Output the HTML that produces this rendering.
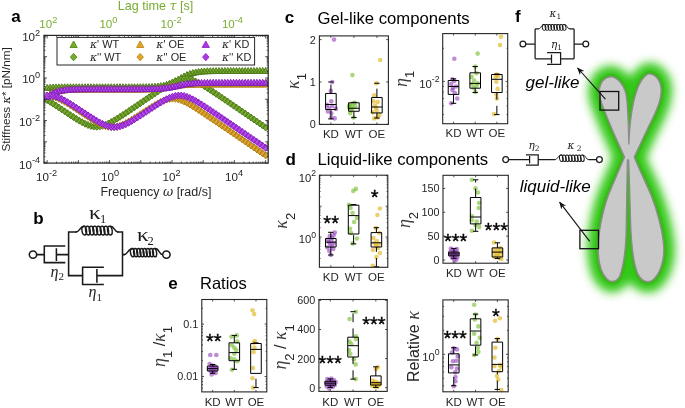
<!DOCTYPE html>
<html><head><meta charset="utf-8"><title>Figure</title>
<style>html,body{margin:0;padding:0;background:#fff;}svg{display:block;font-family:"Liberation Sans", sans-serif;}</style></head>
<body><svg width="685" height="408" viewBox="0 0 685 408">
<rect width="685" height="408" fill="#fff"/>
<clipPath id="ca"><rect x="44.0" y="35.4" width="224.2" height="127.69999999999999"/></clipPath>
<rect x="44.0" y="35.4" width="224.2" height="127.69999999999999" fill="#fff" stroke="none"/>
<g clip-path="url(#ca)"><path d="M43.80 90.33L50.60 90.33L47.20 84.38ZM46.71 90.12L53.51 90.12L50.11 84.17ZM49.62 89.98L56.42 89.98L53.02 84.03ZM52.54 89.88L59.34 89.88L55.94 83.93ZM55.45 89.82L62.25 89.82L58.85 83.87ZM58.36 89.78L65.16 89.78L61.76 83.83ZM61.27 89.75L68.07 89.75L64.67 83.80ZM64.18 89.74L70.98 89.74L67.58 83.79ZM67.10 89.73L73.90 89.73L70.50 83.78ZM70.01 89.72L76.81 89.72L73.41 83.77ZM72.92 89.71L79.72 89.71L76.32 83.76ZM75.83 89.71L82.63 89.71L79.23 83.76ZM78.74 89.71L85.54 89.71L82.14 83.76ZM81.66 89.71L88.46 89.71L85.06 83.76ZM84.57 89.71L91.37 89.71L87.97 83.76ZM87.48 89.71L94.28 89.71L90.88 83.76ZM90.39 89.71L97.19 89.71L93.79 83.76ZM93.30 89.71L100.10 89.71L96.70 83.76ZM96.22 89.71L103.02 89.71L99.62 83.76ZM99.13 89.71L105.93 89.71L102.53 83.76ZM102.04 89.71L108.84 89.71L105.44 83.76ZM104.95 89.71L111.75 89.71L108.35 83.76ZM107.86 89.71L114.66 89.71L111.26 83.76ZM110.78 89.70L117.58 89.70L114.18 83.75ZM113.69 89.70L120.49 89.70L117.09 83.75ZM116.60 89.70L123.40 89.70L120.00 83.75ZM119.51 89.70L126.31 89.70L122.91 83.75ZM122.42 89.70L129.22 89.70L125.82 83.75ZM125.34 89.70L132.14 89.70L128.74 83.75ZM128.25 89.69L135.05 89.69L131.65 83.74ZM131.16 89.68L137.96 89.68L134.56 83.73ZM134.07 89.67L140.87 89.67L137.47 83.72ZM136.98 89.65L143.78 89.65L140.38 83.70ZM139.90 89.62L146.70 89.62L143.30 83.67ZM142.81 89.57L149.61 89.57L146.21 83.62ZM145.72 89.49L152.52 89.49L149.12 83.54ZM148.63 89.38L155.43 89.38L152.03 83.43ZM151.54 89.21L158.34 89.21L154.94 83.26ZM154.46 88.97L161.26 88.97L157.86 83.02ZM157.37 88.60L164.17 88.60L160.77 82.65ZM160.28 88.08L167.08 88.08L163.68 82.13ZM163.19 87.35L169.99 87.35L166.59 81.40ZM166.10 86.39L172.90 86.39L169.50 80.44ZM169.02 85.18L175.82 85.18L172.42 79.23ZM171.93 83.73L178.73 83.73L175.33 77.78ZM174.84 82.14L181.64 82.14L178.24 76.19ZM177.75 80.50L184.55 80.50L181.15 74.55ZM180.66 78.95L187.46 78.95L184.06 73.00ZM183.58 77.57L190.38 77.57L186.98 71.62ZM186.49 76.43L193.29 76.43L189.89 70.48ZM189.40 75.54L196.20 75.54L192.80 69.59ZM192.31 74.89L199.11 74.89L195.71 68.94ZM195.22 74.42L202.02 74.42L198.62 68.47ZM198.14 74.09L204.94 74.09L201.54 68.14ZM201.05 73.87L207.85 73.87L204.45 67.92ZM203.96 73.73L210.76 73.73L207.36 67.78ZM206.87 73.63L213.67 73.63L210.27 67.68ZM209.78 73.56L216.58 73.56L213.18 67.61ZM212.70 73.52L219.50 73.52L216.10 67.57ZM215.61 73.49L222.41 73.49L219.01 67.54ZM218.52 73.48L225.32 73.48L221.92 67.53ZM221.43 73.46L228.23 73.46L224.83 67.51ZM224.34 73.46L231.14 73.46L227.74 67.51ZM227.26 73.45L234.06 73.45L230.66 67.50ZM230.17 73.45L236.97 73.45L233.57 67.50ZM233.08 73.45L239.88 73.45L236.48 67.50ZM235.99 73.44L242.79 73.44L239.39 67.49ZM238.90 73.44L245.70 73.44L242.30 67.49ZM241.82 73.44L248.62 73.44L245.22 67.49ZM244.73 73.44L251.53 73.44L248.13 67.49ZM247.64 73.44L254.44 73.44L251.04 67.49ZM250.55 73.44L257.35 73.44L253.95 67.49ZM253.46 73.44L260.26 73.44L256.86 67.49ZM256.38 73.44L263.18 73.44L259.78 67.49ZM259.29 73.44L266.09 73.44L262.69 67.49ZM262.20 73.44L269.00 73.44L265.60 67.49Z" fill="#7bb030" stroke="#527d1c" stroke-width="1.0" stroke-linejoin="miter"/><path d="M44.30 100.07L47.20 96.57L50.10 100.07L47.20 103.57ZM47.21 101.84L50.11 98.34L53.01 101.84L50.11 105.34ZM50.12 103.68L53.02 100.18L55.92 103.68L53.02 107.18ZM53.04 105.57L55.94 102.07L58.84 105.57L55.94 109.07ZM55.95 107.48L58.85 103.98L61.75 107.48L58.85 110.98ZM58.86 109.41L61.76 105.91L64.66 109.41L61.76 112.91ZM61.77 111.34L64.67 107.84L67.57 111.34L64.67 114.84ZM64.68 113.26L67.58 109.76L70.48 113.26L67.58 116.76ZM67.60 115.17L70.50 111.67L73.40 115.17L70.50 118.67ZM70.51 117.05L73.41 113.55L76.31 117.05L73.41 120.55ZM73.42 118.87L76.32 115.37L79.22 118.87L76.32 122.37ZM76.33 120.62L79.23 117.12L82.13 120.62L79.23 124.12ZM79.24 122.25L82.14 118.75L85.04 122.25L82.14 125.75ZM82.16 123.72L85.06 120.22L87.96 123.72L85.06 127.22ZM85.07 124.97L87.97 121.47L90.87 124.97L87.97 128.47ZM87.98 125.93L90.88 122.43L93.78 125.93L90.88 129.43ZM90.89 126.52L93.79 123.02L96.69 126.52L93.79 130.02ZM93.80 126.71L96.70 123.21L99.60 126.71L96.70 130.21ZM96.72 126.48L99.62 122.98L102.52 126.48L99.62 129.98ZM99.63 125.84L102.53 122.34L105.43 125.84L102.53 129.34ZM102.54 124.85L105.44 121.35L108.34 124.85L105.44 128.35ZM105.45 123.57L108.35 120.07L111.25 123.57L108.35 127.07ZM108.36 122.08L111.26 118.58L114.16 122.08L111.26 125.58ZM111.28 120.43L114.18 116.93L117.08 120.43L114.18 123.93ZM114.19 118.67L117.09 115.17L119.99 118.67L117.09 122.17ZM117.10 116.83L120.00 113.33L122.90 116.83L120.00 120.33ZM120.01 114.95L122.91 111.45L125.81 114.95L122.91 118.45ZM122.92 113.02L125.82 109.52L128.72 113.02L125.82 116.52ZM125.84 111.08L128.74 107.58L131.64 111.08L128.74 114.58ZM128.75 109.12L131.65 105.62L134.55 109.12L131.65 112.62ZM131.66 107.16L134.56 103.66L137.46 107.16L134.56 110.66ZM134.57 105.19L137.47 101.69L140.37 105.19L137.47 108.69ZM137.48 103.21L140.38 99.71L143.28 103.21L140.38 106.71ZM140.40 101.24L143.30 97.74L146.20 101.24L143.30 104.74ZM143.31 99.26L146.21 95.76L149.11 99.26L146.21 102.76ZM146.22 97.29L149.12 93.79L152.02 97.29L149.12 100.79ZM149.13 95.33L152.03 91.83L154.93 95.33L152.03 98.83ZM152.04 93.38L154.94 89.88L157.84 93.38L154.94 96.88ZM154.96 91.45L157.86 87.95L160.76 91.45L157.86 94.95ZM157.87 89.55L160.77 86.05L163.67 89.55L160.77 93.05ZM160.78 87.70L163.68 84.20L166.58 87.70L163.68 91.20ZM163.69 85.91L166.59 82.41L169.49 85.91L166.59 89.41ZM166.60 84.22L169.50 80.72L172.40 84.22L169.50 87.72ZM169.52 82.66L172.42 79.16L175.32 82.66L172.42 86.16ZM172.43 81.31L175.33 77.81L178.23 81.31L175.33 84.81ZM175.34 80.22L178.24 76.72L181.14 80.22L178.24 83.72ZM178.25 79.45L181.15 75.95L184.05 79.45L181.15 82.95ZM181.16 79.08L184.06 75.58L186.96 79.08L184.06 82.58ZM184.08 79.12L186.98 75.62L189.88 79.12L186.98 82.62ZM186.99 79.59L189.89 76.09L192.79 79.59L189.89 83.09ZM189.90 80.43L192.80 76.93L195.70 80.43L192.80 83.93ZM192.81 81.58L195.71 78.08L198.61 81.58L195.71 85.08ZM195.72 82.99L198.62 79.49L201.52 82.99L198.62 86.49ZM198.64 84.57L201.54 81.07L204.44 84.57L201.54 88.07ZM201.55 86.29L204.45 82.79L207.35 86.29L204.45 89.79ZM204.46 88.09L207.36 84.59L210.26 88.09L207.36 91.59ZM207.37 89.96L210.27 86.46L213.17 89.96L210.27 93.46ZM210.28 91.87L213.18 88.37L216.08 91.87L213.18 95.37ZM213.20 93.81L216.10 90.31L219.00 93.81L216.10 97.31ZM216.11 95.76L219.01 92.26L221.91 95.76L219.01 99.26ZM219.02 97.72L221.92 94.22L224.82 97.72L221.92 101.22ZM221.93 99.69L224.83 96.19L227.73 99.69L224.83 103.19ZM224.84 101.67L227.74 98.17L230.64 101.67L227.74 105.17ZM227.76 103.65L230.66 100.15L233.56 103.65L230.66 107.15ZM230.67 105.63L233.57 102.13L236.47 105.63L233.57 109.13ZM233.58 107.62L236.48 104.12L239.38 107.62L236.48 111.12ZM236.49 109.60L239.39 106.10L242.29 109.60L239.39 113.10ZM239.40 111.59L242.30 108.09L245.20 111.59L242.30 115.09ZM242.32 113.57L245.22 110.07L248.12 113.57L245.22 117.07ZM245.23 115.56L248.13 112.06L251.03 115.56L248.13 119.06ZM248.14 117.55L251.04 114.05L253.94 117.55L251.04 121.05ZM251.05 119.53L253.95 116.03L256.85 119.53L253.95 123.03ZM253.96 121.52L256.86 118.02L259.76 121.52L256.86 125.02ZM256.88 123.51L259.78 120.01L262.68 123.51L259.78 127.01ZM259.79 125.49L262.69 121.99L265.59 125.49L262.69 128.99ZM262.70 127.48L265.60 123.98L268.50 127.48L265.60 130.98Z" fill="#7bb030" stroke="#527d1c" stroke-width="1.0" stroke-linejoin="miter"/><path d="M43.80 98.86L50.60 98.86L47.20 92.91ZM46.71 97.01L53.51 97.01L50.11 91.06ZM49.62 95.57L56.42 95.57L53.02 89.62ZM52.54 94.50L59.34 94.50L55.94 88.55ZM55.45 93.73L62.25 93.73L58.85 87.78ZM58.36 93.19L65.16 93.19L61.76 87.24ZM61.27 92.82L68.07 92.82L64.67 86.87ZM64.18 92.57L70.98 92.57L67.58 86.62ZM67.10 92.41L73.90 92.41L70.50 86.46ZM70.01 92.30L76.81 92.30L73.41 86.35ZM72.92 92.22L79.72 92.22L76.32 86.27ZM75.83 92.18L82.63 92.18L79.23 86.23ZM78.74 92.15L85.54 92.15L82.14 86.20ZM81.66 92.13L88.46 92.13L85.06 86.18ZM84.57 92.11L91.37 92.11L87.97 86.16ZM87.48 92.11L94.28 92.11L90.88 86.16ZM90.39 92.10L97.19 92.10L93.79 86.15ZM93.30 92.10L100.10 92.10L96.70 86.15ZM96.22 92.09L103.02 92.09L99.62 86.14ZM99.13 92.09L105.93 92.09L102.53 86.14ZM102.04 92.09L108.84 92.09L105.44 86.14ZM104.95 92.09L111.75 92.09L108.35 86.14ZM107.86 92.09L114.66 92.09L111.26 86.14ZM110.78 92.09L117.58 92.09L114.18 86.14ZM113.69 92.09L120.49 92.09L117.09 86.14ZM116.60 92.09L123.40 92.09L120.00 86.14ZM119.51 92.09L126.31 92.09L122.91 86.14ZM122.42 92.08L129.22 92.08L125.82 86.13ZM125.34 92.08L132.14 92.08L128.74 86.13ZM128.25 92.07L135.05 92.07L131.65 86.12ZM131.16 92.07L137.96 92.07L134.56 86.12ZM134.07 92.05L140.87 92.05L137.47 86.10ZM136.98 92.03L143.78 92.03L140.38 86.08ZM139.90 92.00L146.70 92.00L143.30 86.05ZM142.81 91.96L149.61 91.96L146.21 86.01ZM145.72 91.89L152.52 91.89L149.12 85.94ZM148.63 91.79L155.43 91.79L152.03 85.84ZM151.54 91.65L158.34 91.65L154.94 85.70ZM154.46 91.44L161.26 91.44L157.86 85.49ZM157.37 91.15L164.17 91.15L160.77 85.20ZM160.28 90.78L167.08 90.78L163.68 84.83ZM163.19 90.32L169.99 90.32L166.59 84.37ZM166.10 89.80L172.90 89.80L169.50 83.85ZM169.02 89.25L175.82 89.25L172.42 83.30ZM171.93 88.72L178.73 88.72L175.33 82.77ZM174.84 88.26L181.64 88.26L178.24 82.31ZM177.75 87.88L184.55 87.88L181.15 81.93ZM180.66 87.59L187.46 87.59L184.06 81.64ZM183.58 87.38L190.38 87.38L186.98 81.43ZM186.49 87.23L193.29 87.23L189.89 81.28ZM189.40 87.13L196.20 87.13L192.80 81.18ZM192.31 87.06L199.11 87.06L195.71 81.11ZM195.22 87.01L202.02 87.01L198.62 81.06ZM198.14 86.98L204.94 86.98L201.54 81.03ZM201.05 86.96L207.85 86.96L204.45 81.01ZM203.96 86.95L210.76 86.95L207.36 81.00ZM206.87 86.94L213.67 86.94L210.27 80.99ZM209.78 86.93L216.58 86.93L213.18 80.98ZM212.70 86.93L219.50 86.93L216.10 80.98ZM215.61 86.93L222.41 86.93L219.01 80.98ZM218.52 86.93L225.32 86.93L221.92 80.98ZM221.43 86.93L228.23 86.93L224.83 80.98ZM224.34 86.92L231.14 86.92L227.74 80.97ZM227.26 86.92L234.06 86.92L230.66 80.97ZM230.17 86.92L236.97 86.92L233.57 80.97ZM233.08 86.92L239.88 86.92L236.48 80.97ZM235.99 86.92L242.79 86.92L239.39 80.97ZM238.90 86.92L245.70 86.92L242.30 80.97ZM241.82 86.92L248.62 86.92L245.22 80.97ZM244.73 86.92L251.53 86.92L248.13 80.97ZM247.64 86.92L254.44 86.92L251.04 80.97ZM250.55 86.92L257.35 86.92L253.95 80.97ZM253.46 86.92L260.26 86.92L256.86 80.97ZM256.38 86.92L263.18 86.92L259.78 80.97ZM259.29 86.92L266.09 86.92L262.69 80.97ZM262.20 86.92L269.00 86.92L265.60 80.97Z" fill="#e2a930" stroke="#b37f18" stroke-width="1.0" stroke-linejoin="miter"/><path d="M44.30 95.95L47.20 92.45L50.10 95.95L47.20 99.45ZM47.21 96.09L50.11 92.59L53.01 96.09L50.11 99.59ZM50.12 96.63L53.02 93.13L55.92 96.63L53.02 100.13ZM53.04 97.54L55.94 94.04L58.84 97.54L55.94 101.04ZM55.95 98.76L58.85 95.26L61.75 98.76L58.85 102.26ZM58.86 100.20L61.76 96.70L64.66 100.20L61.76 103.70ZM61.77 101.82L64.67 98.32L67.57 101.82L64.67 105.32ZM64.68 103.55L67.58 100.05L70.48 103.55L67.58 107.05ZM67.60 105.37L70.50 101.87L73.40 105.37L70.50 108.87ZM70.51 107.23L73.41 103.73L76.31 107.23L73.41 110.73ZM73.42 109.13L76.32 105.63L79.22 109.13L76.32 112.63ZM76.33 111.05L79.23 107.55L82.13 111.05L79.23 114.55ZM79.24 112.97L82.14 109.47L85.04 112.97L82.14 116.47ZM82.16 114.88L85.06 111.38L87.96 114.88L85.06 118.38ZM85.07 116.76L87.97 113.26L90.87 116.76L87.97 120.26ZM87.98 118.61L90.88 115.11L93.78 118.61L90.88 122.11ZM90.89 120.39L93.79 116.89L96.69 120.39L93.79 123.89ZM93.80 122.07L96.70 118.57L99.60 122.07L96.70 125.57ZM96.72 123.62L99.62 120.12L102.52 123.62L99.62 127.12ZM99.63 124.96L102.53 121.46L105.43 124.96L102.53 128.46ZM102.54 126.04L105.44 122.54L108.34 126.04L105.44 129.54ZM105.45 126.79L108.35 123.29L111.25 126.79L108.35 130.29ZM108.36 127.15L111.26 123.65L114.16 127.15L111.26 130.65ZM111.28 127.09L114.18 123.59L117.08 127.09L114.18 130.59ZM114.19 126.61L117.09 123.11L119.99 126.61L117.09 130.11ZM117.10 125.76L120.00 122.26L122.90 125.76L120.00 129.26ZM120.01 124.59L122.91 121.09L125.81 124.59L122.91 128.09ZM122.92 123.18L125.82 119.68L128.72 123.18L125.82 126.68ZM125.84 121.60L128.74 118.10L131.64 121.60L128.74 125.10ZM128.75 119.88L131.65 116.38L134.55 119.88L131.65 123.38ZM131.66 118.09L134.56 114.59L137.46 118.09L134.56 121.59ZM134.57 116.23L137.47 112.73L140.37 116.23L137.47 119.73ZM137.48 114.35L140.38 110.85L143.28 114.35L140.38 117.85ZM140.40 112.45L143.30 108.95L146.20 112.45L143.30 115.95ZM143.31 110.56L146.21 107.06L149.11 110.56L146.21 114.06ZM146.22 108.69L149.12 105.19L152.02 108.69L149.12 112.19ZM149.13 106.86L152.03 103.36L154.93 106.86L152.03 110.36ZM152.04 105.10L154.94 101.60L157.84 105.10L154.94 108.60ZM154.96 103.44L157.86 99.94L160.76 103.44L157.86 106.94ZM157.87 101.93L160.77 98.43L163.67 101.93L160.77 105.43ZM160.78 100.62L163.68 97.12L166.58 100.62L163.68 104.12ZM163.69 99.60L166.59 96.10L169.49 99.60L166.59 103.10ZM166.60 98.91L169.50 95.41L172.40 98.91L169.50 102.41ZM169.52 98.63L172.42 95.13L175.32 98.63L172.42 102.13ZM172.43 98.76L175.33 95.26L178.23 98.76L175.33 102.26ZM175.34 99.31L178.24 95.81L181.14 99.31L178.24 102.81ZM178.25 100.22L181.15 96.72L184.05 100.22L181.15 103.72ZM181.16 101.44L184.06 97.94L186.96 101.44L184.06 104.94ZM184.08 102.89L186.98 99.39L189.88 102.89L186.98 106.39ZM186.99 104.50L189.89 101.00L192.79 104.50L189.89 108.00ZM189.90 106.24L192.80 102.74L195.70 106.24L192.80 109.74ZM192.81 108.06L195.71 104.56L198.61 108.06L195.71 111.56ZM195.72 109.94L198.62 106.44L201.52 109.94L198.62 113.44ZM198.64 111.86L201.54 108.36L204.44 111.86L201.54 115.36ZM201.55 113.80L204.45 110.30L207.35 113.80L204.45 117.30ZM204.46 115.75L207.36 112.25L210.26 115.75L207.36 119.25ZM207.37 117.72L210.27 114.22L213.17 117.72L210.27 121.22ZM210.28 119.69L213.18 116.19L216.08 119.69L213.18 123.19ZM213.20 121.67L216.10 118.17L219.00 121.67L216.10 125.17ZM216.11 123.65L219.01 120.15L221.91 123.65L219.01 127.15ZM219.02 125.63L221.92 122.13L224.82 125.63L221.92 129.13ZM221.93 127.62L224.83 124.12L227.73 127.62L224.83 131.12ZM224.84 129.60L227.74 126.10L230.64 129.60L227.74 133.10ZM227.76 131.59L230.66 128.09L233.56 131.59L230.66 135.09ZM230.67 133.57L233.57 130.07L236.47 133.57L233.57 137.07ZM233.58 135.56L236.48 132.06L239.38 135.56L236.48 139.06ZM236.49 137.55L239.39 134.05L242.29 137.55L239.39 141.05ZM239.40 139.53L242.30 136.03L245.20 139.53L242.30 143.03ZM242.32 141.52L245.22 138.02L248.12 141.52L245.22 145.02ZM245.23 143.50L248.13 140.00L251.03 143.50L248.13 147.00ZM248.14 145.49L251.04 141.99L253.94 145.49L251.04 148.99ZM251.05 147.48L253.95 143.98L256.85 147.48L253.95 150.98ZM253.96 149.46L256.86 145.96L259.76 149.46L256.86 152.96ZM256.88 151.45L259.78 147.95L262.68 151.45L259.78 154.95ZM259.79 153.44L262.69 149.94L265.59 153.44L262.69 156.94ZM262.70 155.42L265.60 151.92L268.50 155.42L265.60 158.92Z" fill="#e2a930" stroke="#b37f18" stroke-width="1.0" stroke-linejoin="miter"/><path d="M43.80 99.55L50.60 99.55L47.20 93.60ZM46.71 97.48L53.51 97.48L50.11 91.53ZM49.62 95.83L56.42 95.83L53.02 89.88ZM52.54 94.57L59.34 94.57L55.94 88.62ZM55.45 93.65L62.25 93.65L58.85 87.70ZM58.36 93.00L65.16 93.00L61.76 87.05ZM61.27 92.55L68.07 92.55L64.67 86.60ZM64.18 92.24L70.98 92.24L67.58 86.29ZM67.10 92.04L73.90 92.04L70.50 86.09ZM70.01 91.90L76.81 91.90L73.41 85.95ZM72.92 91.81L79.72 91.81L76.32 85.86ZM75.83 91.76L82.63 91.76L79.23 85.81ZM78.74 91.72L85.54 91.72L82.14 85.77ZM81.66 91.69L88.46 91.69L85.06 85.74ZM84.57 91.68L91.37 91.68L87.97 85.73ZM87.48 91.67L94.28 91.67L90.88 85.72ZM90.39 91.66L97.19 91.66L93.79 85.71ZM93.30 91.65L100.10 91.65L96.70 85.70ZM96.22 91.65L103.02 91.65L99.62 85.70ZM99.13 91.65L105.93 91.65L102.53 85.70ZM102.04 91.65L108.84 91.65L105.44 85.70ZM104.95 91.65L111.75 91.65L108.35 85.70ZM107.86 91.65L114.66 91.65L111.26 85.70ZM110.78 91.65L117.58 91.65L114.18 85.70ZM113.69 91.65L120.49 91.65L117.09 85.70ZM116.60 91.65L123.40 91.65L120.00 85.70ZM119.51 91.64L126.31 91.64L122.91 85.69ZM122.42 91.64L129.22 91.64L125.82 85.69ZM125.34 91.64L132.14 91.64L128.74 85.69ZM128.25 91.64L135.05 91.64L131.65 85.69ZM131.16 91.63L137.96 91.63L134.56 85.68ZM134.07 91.63L140.87 91.63L137.47 85.68ZM136.98 91.62L143.78 91.62L140.38 85.67ZM139.90 91.60L146.70 91.60L143.30 85.65ZM142.81 91.58L149.61 91.58L146.21 85.63ZM145.72 91.54L152.52 91.54L149.12 85.59ZM148.63 91.49L155.43 91.49L152.03 85.54ZM151.54 91.41L158.34 91.41L154.94 85.46ZM154.46 91.29L161.26 91.29L157.86 85.34ZM157.37 91.11L164.17 91.11L160.77 85.16ZM160.28 90.86L167.08 90.86L163.68 84.91ZM163.19 90.52L169.99 90.52L166.59 84.57ZM166.10 90.07L172.90 90.07L169.50 84.12ZM169.02 89.51L175.82 89.51L172.42 83.56ZM171.93 88.87L178.73 88.87L175.33 82.92ZM174.84 88.19L181.64 88.19L178.24 82.24ZM177.75 87.53L184.55 87.53L181.15 81.58ZM180.66 86.95L187.46 86.95L184.06 81.00ZM183.58 86.47L190.38 86.47L186.98 80.52ZM186.49 86.10L193.29 86.10L189.89 80.15ZM189.40 85.83L196.20 85.83L192.80 79.88ZM192.31 85.63L199.11 85.63L195.71 79.68ZM195.22 85.50L202.02 85.50L198.62 79.55ZM198.14 85.41L204.94 85.41L201.54 79.46ZM201.05 85.35L207.85 85.35L204.45 79.40ZM203.96 85.31L210.76 85.31L207.36 79.36ZM206.87 85.29L213.67 85.29L210.27 79.34ZM209.78 85.27L216.58 85.27L213.18 79.32ZM212.70 85.26L219.50 85.26L216.10 79.31ZM215.61 85.25L222.41 85.25L219.01 79.30ZM218.52 85.25L225.32 85.25L221.92 79.30ZM221.43 85.24L228.23 85.24L224.83 79.29ZM224.34 85.24L231.14 85.24L227.74 79.29ZM227.26 85.24L234.06 85.24L230.66 79.29ZM230.17 85.24L236.97 85.24L233.57 79.29ZM233.08 85.24L239.88 85.24L236.48 79.29ZM235.99 85.24L242.79 85.24L239.39 79.29ZM238.90 85.24L245.70 85.24L242.30 79.29ZM241.82 85.24L248.62 85.24L245.22 79.29ZM244.73 85.24L251.53 85.24L248.13 79.29ZM247.64 85.24L254.44 85.24L251.04 79.29ZM250.55 85.24L257.35 85.24L253.95 79.29ZM253.46 85.24L260.26 85.24L256.86 79.29ZM256.38 85.24L263.18 85.24L259.78 79.29ZM259.29 85.24L266.09 85.24L262.69 79.29ZM262.20 85.24L269.00 85.24L265.60 79.29Z" fill="#bc4cf4" stroke="#8623bd" stroke-width="1.0" stroke-linejoin="miter"/><path d="M44.30 95.61L47.20 92.11L50.10 95.61L47.20 99.11ZM47.21 95.52L50.11 92.02L53.01 95.52L50.11 99.02ZM50.12 95.86L53.02 92.36L55.92 95.86L53.02 99.36ZM53.04 96.59L55.94 93.09L58.84 96.59L55.94 100.09ZM55.95 97.65L58.85 94.15L61.75 97.65L58.85 101.15ZM58.86 98.98L61.76 95.48L64.66 98.98L61.76 102.48ZM61.77 100.52L64.67 97.02L67.57 100.52L64.67 104.02ZM64.68 102.20L67.58 98.70L70.48 102.20L67.58 105.70ZM67.60 103.97L70.50 100.47L73.40 103.97L70.50 107.47ZM70.51 105.82L73.41 102.32L76.31 105.82L73.41 109.32ZM73.42 107.70L76.32 104.20L79.22 107.70L76.32 111.20ZM76.33 109.61L79.23 106.11L82.13 109.61L79.23 113.11ZM79.24 111.53L82.14 108.03L85.04 111.53L82.14 115.03ZM82.16 113.45L85.06 109.95L87.96 113.45L85.06 116.95ZM85.07 115.36L87.97 111.86L90.87 115.36L87.97 118.86ZM87.98 117.23L90.88 113.73L93.78 117.23L90.88 120.73ZM90.89 119.07L93.79 115.57L96.69 119.07L93.79 122.57ZM93.80 120.82L96.70 117.32L99.60 120.82L96.70 124.32ZM96.72 122.47L99.62 118.97L102.52 122.47L99.62 125.97ZM99.63 123.96L102.53 120.46L105.43 123.96L102.53 127.46ZM102.54 125.24L105.44 121.74L108.34 125.24L105.44 128.74ZM105.45 126.23L108.35 122.73L111.25 126.23L108.35 129.73ZM108.36 126.88L111.26 123.38L114.16 126.88L111.26 130.38ZM111.28 127.12L114.18 123.62L117.08 127.12L114.18 130.62ZM114.19 126.93L117.09 123.43L119.99 126.93L117.09 130.43ZM117.10 126.34L120.00 122.84L122.90 126.34L120.00 129.84ZM120.01 125.39L122.91 121.89L125.81 125.39L122.91 128.89ZM122.92 124.15L125.82 120.65L128.72 124.15L125.82 127.65ZM125.84 122.68L128.74 119.18L131.64 122.68L128.74 126.18ZM128.75 121.05L131.65 117.55L134.55 121.05L131.65 124.55ZM131.66 119.30L134.56 115.80L137.46 119.30L134.56 122.80ZM134.57 117.48L137.47 113.98L140.37 117.48L137.47 120.98ZM137.48 115.61L140.38 112.11L143.28 115.61L140.38 119.11ZM140.40 113.71L143.30 110.21L146.20 113.71L143.30 117.21ZM143.31 111.79L146.21 108.29L149.11 111.79L146.21 115.29ZM146.22 109.87L149.12 106.37L152.02 109.87L149.12 113.37ZM149.13 107.95L152.03 104.45L154.93 107.95L152.03 111.45ZM152.04 106.06L154.94 102.56L157.84 106.06L154.94 109.56ZM154.96 104.21L157.86 100.71L160.76 104.21L157.86 107.71ZM157.87 102.43L160.77 98.93L163.67 102.43L160.77 105.93ZM160.78 100.73L163.68 97.23L166.58 100.73L163.68 104.23ZM163.69 99.18L166.59 95.68L169.49 99.18L166.59 102.68ZM166.60 97.81L169.50 94.31L172.40 97.81L169.50 101.31ZM169.52 96.71L172.42 93.21L175.32 96.71L172.42 100.21ZM172.43 95.93L175.33 92.43L178.23 95.93L175.33 99.43ZM175.34 95.54L178.24 92.04L181.14 95.54L178.24 99.04ZM178.25 95.57L181.15 92.07L184.05 95.57L181.15 99.07ZM181.16 96.01L184.06 92.51L186.96 96.01L184.06 99.51ZM184.08 96.84L186.98 93.34L189.88 96.84L186.98 100.34ZM186.99 97.99L189.89 94.49L192.79 97.99L189.89 101.49ZM189.90 99.38L192.80 95.88L195.70 99.38L192.80 102.88ZM192.81 100.96L195.71 97.46L198.61 100.96L195.71 104.46ZM195.72 102.67L198.62 99.17L201.52 102.67L198.62 106.17ZM198.64 104.48L201.54 100.98L204.44 104.48L201.54 107.98ZM201.55 106.34L204.45 102.84L207.35 106.34L204.45 109.84ZM204.46 108.25L207.36 104.75L210.26 108.25L207.36 111.75ZM207.37 110.18L210.27 106.68L213.17 110.18L210.27 113.68ZM210.28 112.14L213.18 108.64L216.08 112.14L213.18 115.64ZM213.20 114.10L216.10 110.60L219.00 114.10L216.10 117.60ZM216.11 116.07L219.01 112.57L221.91 116.07L219.01 119.57ZM219.02 118.05L221.92 114.55L224.82 118.05L221.92 121.55ZM221.93 120.03L224.83 116.53L227.73 120.03L224.83 123.53ZM224.84 122.01L227.74 118.51L230.64 122.01L227.74 125.51ZM227.76 124.00L230.66 120.50L233.56 124.00L230.66 127.50ZM230.67 125.98L233.57 122.48L236.47 125.98L233.57 129.48ZM233.58 127.97L236.48 124.47L239.38 127.97L236.48 131.47ZM236.49 129.95L239.39 126.45L242.29 129.95L239.39 133.45ZM239.40 131.94L242.30 128.44L245.20 131.94L242.30 135.44ZM242.32 133.92L245.22 130.42L248.12 133.92L245.22 137.42ZM245.23 135.91L248.13 132.41L251.03 135.91L248.13 139.41ZM248.14 137.90L251.04 134.40L253.94 137.90L251.04 141.40ZM251.05 139.88L253.95 136.38L256.85 139.88L253.95 143.38ZM253.96 141.87L256.86 138.37L259.76 141.87L256.86 145.37ZM256.88 143.85L259.78 140.35L262.68 143.85L259.78 147.35ZM259.79 145.84L262.69 142.34L265.59 145.84L262.69 149.34ZM262.70 147.83L265.60 144.33L268.50 147.83L265.60 151.33Z" fill="#bc4cf4" stroke="#8623bd" stroke-width="1.0" stroke-linejoin="miter"/></g>
<path d="M44.18 163.1v-1.5M44.18 35.4v1.5M45.77 163.1v-1.5M45.77 35.4v1.5M47.20 163.1v-3.0M47.20 35.4v3.0M56.59 163.1v-1.5M56.59 35.4v1.5M62.09 163.1v-1.5M62.09 35.4v1.5M65.98 163.1v-1.5M65.98 35.4v1.5M69.01 163.1v-1.5M69.01 35.4v1.5M71.48 163.1v-1.5M71.48 35.4v1.5M73.57 163.1v-1.5M73.57 35.4v1.5M75.38 163.1v-1.5M75.38 35.4v1.5M76.97 163.1v-1.5M76.97 35.4v1.5M78.40 163.1v-3.0M78.40 35.4v3.0M87.79 163.1v-1.5M87.79 35.4v1.5M93.29 163.1v-1.5M93.29 35.4v1.5M97.18 163.1v-1.5M97.18 35.4v1.5M100.21 163.1v-1.5M100.21 35.4v1.5M102.68 163.1v-1.5M102.68 35.4v1.5M104.77 163.1v-1.5M104.77 35.4v1.5M106.58 163.1v-1.5M106.58 35.4v1.5M108.17 163.1v-1.5M108.17 35.4v1.5M109.60 163.1v-3.0M109.60 35.4v3.0M118.99 163.1v-1.5M118.99 35.4v1.5M124.49 163.1v-1.5M124.49 35.4v1.5M128.38 163.1v-1.5M128.38 35.4v1.5M131.41 163.1v-1.5M131.41 35.4v1.5M133.88 163.1v-1.5M133.88 35.4v1.5M135.97 163.1v-1.5M135.97 35.4v1.5M137.78 163.1v-1.5M137.78 35.4v1.5M139.37 163.1v-1.5M139.37 35.4v1.5M140.80 163.1v-3.0M140.80 35.4v3.0M150.19 163.1v-1.5M150.19 35.4v1.5M155.69 163.1v-1.5M155.69 35.4v1.5M159.58 163.1v-1.5M159.58 35.4v1.5M162.61 163.1v-1.5M162.61 35.4v1.5M165.08 163.1v-1.5M165.08 35.4v1.5M167.17 163.1v-1.5M167.17 35.4v1.5M168.98 163.1v-1.5M168.98 35.4v1.5M170.57 163.1v-1.5M170.57 35.4v1.5M172.00 163.1v-3.0M172.00 35.4v3.0M181.39 163.1v-1.5M181.39 35.4v1.5M186.89 163.1v-1.5M186.89 35.4v1.5M190.78 163.1v-1.5M190.78 35.4v1.5M193.81 163.1v-1.5M193.81 35.4v1.5M196.28 163.1v-1.5M196.28 35.4v1.5M198.37 163.1v-1.5M198.37 35.4v1.5M200.18 163.1v-1.5M200.18 35.4v1.5M201.77 163.1v-1.5M201.77 35.4v1.5M203.20 163.1v-3.0M203.20 35.4v3.0M212.59 163.1v-1.5M212.59 35.4v1.5M218.09 163.1v-1.5M218.09 35.4v1.5M221.98 163.1v-1.5M221.98 35.4v1.5M225.01 163.1v-1.5M225.01 35.4v1.5M227.48 163.1v-1.5M227.48 35.4v1.5M229.57 163.1v-1.5M229.57 35.4v1.5M231.38 163.1v-1.5M231.38 35.4v1.5M232.97 163.1v-1.5M232.97 35.4v1.5M234.40 163.1v-3.0M234.40 35.4v3.0M243.79 163.1v-1.5M243.79 35.4v1.5M249.29 163.1v-1.5M249.29 35.4v1.5M253.18 163.1v-1.5M253.18 35.4v1.5M256.21 163.1v-1.5M256.21 35.4v1.5M258.68 163.1v-1.5M258.68 35.4v1.5M260.77 163.1v-1.5M260.77 35.4v1.5M262.58 163.1v-1.5M262.58 35.4v1.5M264.17 163.1v-1.5M264.17 35.4v1.5M265.60 163.1v-3.0M265.60 35.4v3.0M44.0 163.10h3.0M268.2 163.10h-3.0M44.0 156.69h1.5M268.2 156.69h-1.5M44.0 152.95h1.5M268.2 152.95h-1.5M44.0 150.29h1.5M268.2 150.29h-1.5M44.0 148.22h1.5M268.2 148.22h-1.5M44.0 146.54h1.5M268.2 146.54h-1.5M44.0 145.11h1.5M268.2 145.11h-1.5M44.0 143.88h1.5M268.2 143.88h-1.5M44.0 142.79h1.5M268.2 142.79h-1.5M44.0 141.82h3.0M268.2 141.82h-3.0M44.0 135.41h1.5M268.2 135.41h-1.5M44.0 131.66h1.5M268.2 131.66h-1.5M44.0 129.00h1.5M268.2 129.00h-1.5M44.0 126.94h1.5M268.2 126.94h-1.5M44.0 125.26h1.5M268.2 125.26h-1.5M44.0 123.83h1.5M268.2 123.83h-1.5M44.0 122.60h1.5M268.2 122.60h-1.5M44.0 121.51h1.5M268.2 121.51h-1.5M44.0 120.53h3.0M268.2 120.53h-3.0M44.0 114.13h1.5M268.2 114.13h-1.5M44.0 110.38h1.5M268.2 110.38h-1.5M44.0 107.72h1.5M268.2 107.72h-1.5M44.0 105.66h1.5M268.2 105.66h-1.5M44.0 103.97h1.5M268.2 103.97h-1.5M44.0 102.55h1.5M268.2 102.55h-1.5M44.0 101.31h1.5M268.2 101.31h-1.5M44.0 100.22h1.5M268.2 100.22h-1.5M44.0 99.25h3.0M268.2 99.25h-3.0M44.0 92.84h1.5M268.2 92.84h-1.5M44.0 89.10h1.5M268.2 89.10h-1.5M44.0 86.44h1.5M268.2 86.44h-1.5M44.0 84.37h1.5M268.2 84.37h-1.5M44.0 82.69h1.5M268.2 82.69h-1.5M44.0 81.26h1.5M268.2 81.26h-1.5M44.0 80.03h1.5M268.2 80.03h-1.5M44.0 78.94h1.5M268.2 78.94h-1.5M44.0 77.97h3.0M268.2 77.97h-3.0M44.0 71.56h1.5M268.2 71.56h-1.5M44.0 67.81h1.5M268.2 67.81h-1.5M44.0 65.15h1.5M268.2 65.15h-1.5M44.0 63.09h1.5M268.2 63.09h-1.5M44.0 61.41h1.5M268.2 61.41h-1.5M44.0 59.98h1.5M268.2 59.98h-1.5M44.0 58.75h1.5M268.2 58.75h-1.5M44.0 57.66h1.5M268.2 57.66h-1.5M44.0 56.68h3.0M268.2 56.68h-3.0M44.0 50.28h1.5M268.2 50.28h-1.5M44.0 46.53h1.5M268.2 46.53h-1.5M44.0 43.87h1.5M268.2 43.87h-1.5M44.0 41.81h1.5M268.2 41.81h-1.5M44.0 40.12h1.5M268.2 40.12h-1.5M44.0 38.70h1.5M268.2 38.70h-1.5M44.0 37.46h1.5M268.2 37.46h-1.5M44.0 36.37h1.5M268.2 36.37h-1.5M44.0 35.40h3.0M268.2 35.40h-3.0" stroke="#262626" stroke-width="0.8" fill="none"/>
<rect x="44.0" y="35.4" width="224.2" height="127.69999999999999" fill="none" stroke="#262626" stroke-width="1.2"/>
<text x="36.00" y="180.90" font-size="11.6" text-anchor="start" fill="#262626" >10<tspan font-size="9.2" dy="-5.2">-2</tspan></text>
<text x="101.00" y="180.90" font-size="11.6" text-anchor="start" fill="#262626" >10<tspan font-size="9.2" dy="-5.2">0</tspan></text>
<text x="162.50" y="180.90" font-size="11.6" text-anchor="start" fill="#262626" >10<tspan font-size="9.2" dy="-5.2">2</tspan></text>
<text x="225.00" y="180.90" font-size="11.6" text-anchor="start" fill="#262626" >10<tspan font-size="9.2" dy="-5.2">4</tspan></text>
<text x="39.30" y="28.00" font-size="11.6" text-anchor="start" fill="#77ac30" >10<tspan font-size="9.2" dy="-5.2">2</tspan></text>
<text x="99.40" y="28.00" font-size="11.6" text-anchor="start" fill="#77ac30" >10<tspan font-size="9.2" dy="-5.2">0</tspan></text>
<text x="160.60" y="28.00" font-size="11.6" text-anchor="start" fill="#77ac30" >10<tspan font-size="9.2" dy="-5.2">-2</tspan></text>
<text x="221.90" y="28.00" font-size="11.6" text-anchor="start" fill="#77ac30" >10<tspan font-size="9.2" dy="-5.2">-4</tspan></text>
<text x="40.20" y="40.90" font-size="11.6" text-anchor="end" fill="#262626">10<tspan font-size="9.2" dy="-5.2">2</tspan></text>
<text x="40.20" y="83.47" font-size="11.6" text-anchor="end" fill="#262626">10<tspan font-size="9.2" dy="-5.2">0</tspan></text>
<text x="40.20" y="126.03" font-size="11.6" text-anchor="end" fill="#262626">10<tspan font-size="9.2" dy="-5.2">-2</tspan></text>
<text x="40.20" y="168.60" font-size="11.6" text-anchor="end" fill="#262626">10<tspan font-size="9.2" dy="-5.2">-4</tspan></text>
<text x="155.90" y="195.60" font-size="12.5" text-anchor="middle" fill="#262626" >Frequency <tspan font-family='"DejaVu Serif", "Liberation Serif", serif' font-style="italic">ω</tspan> [rad/s]</text>
<text x="155.50" y="9.60" font-size="12.6" text-anchor="middle" fill="#77ac30" >Lag time <tspan font-family='"DejaVu Serif", "Liberation Serif", serif' font-style="italic">τ</tspan> [s]</text>
<text x="10.40" y="99.40" font-size="11.7" text-anchor="middle" fill="#262626" transform="rotate(-90 10.40 99.40)" >Stiffness <tspan font-family='"DejaVu Serif", "Liberation Serif", serif' font-style="italic">κ</tspan>* [pN/nm]</text>
<text x="11.30" y="22.20" font-size="17" text-anchor="start" fill="#000" font-weight="bold" >a</text>
<rect x="57.0" y="37.4" width="197.6" height="27.6" fill="#fff" stroke="#262626" stroke-width="1"/>
<path d="M70.0 47.480000000000004L77.19999999999999 47.480000000000004L73.6 41.0Z" fill="#77ac30" stroke="#5f8f22" stroke-width="1.0" stroke-linejoin="miter"/>
<path d="M70.39999999999999 57.1L73.6 53.4L76.8 57.1L73.6 60.800000000000004Z" fill="#77ac30" stroke="#5f8f22" stroke-width="1.0" stroke-linejoin="miter"/>
<text x="89.90" y="48.30" font-size="10.9" text-anchor="start" fill="#262626" ><tspan font-family='"DejaVu Serif", "Liberation Serif", serif' font-style="italic">κ</tspan>' WT</text>
<text x="89.90" y="61.00" font-size="10.9" text-anchor="start" fill="#262626" ><tspan font-family='"DejaVu Serif", "Liberation Serif", serif' font-style="italic">κ</tspan>'' WT</text>
<path d="M136.6 47.480000000000004L143.79999999999998 47.480000000000004L140.2 41.0Z" fill="#dfa52b" stroke="#c48f1f" stroke-width="1.0" stroke-linejoin="miter"/>
<path d="M137.0 57.1L140.2 53.4L143.39999999999998 57.1L140.2 60.800000000000004Z" fill="#dfa52b" stroke="#c48f1f" stroke-width="1.0" stroke-linejoin="miter"/>
<text x="156.30" y="48.30" font-size="10.9" text-anchor="start" fill="#262626" ><tspan font-family='"DejaVu Serif", "Liberation Serif", serif' font-style="italic">κ</tspan>' OE</text>
<text x="156.30" y="61.00" font-size="10.9" text-anchor="start" fill="#262626" ><tspan font-family='"DejaVu Serif", "Liberation Serif", serif' font-style="italic">κ</tspan>'' OE</text>
<path d="M202.20000000000002 47.480000000000004L209.4 47.480000000000004L205.8 41.0Z" fill="#ac39e0" stroke="#9a2fd0" stroke-width="1.0" stroke-linejoin="miter"/>
<path d="M202.60000000000002 57.1L205.8 53.4L209.0 57.1L205.8 60.800000000000004Z" fill="#ac39e0" stroke="#9a2fd0" stroke-width="1.0" stroke-linejoin="miter"/>
<text x="221.90" y="48.30" font-size="10.9" text-anchor="start" fill="#262626" ><tspan font-family='"DejaVu Serif", "Liberation Serif", serif' font-style="italic">κ</tspan>' KD</text>
<text x="221.90" y="61.00" font-size="10.9" text-anchor="start" fill="#262626" ><tspan font-family='"DejaVu Serif", "Liberation Serif", serif' font-style="italic">κ</tspan>'' KD</text>
<circle cx="33" cy="254.6" r="3.7" fill="#fff" stroke="#1a1a1a" stroke-width="1.55"/>
<path d="M36.7 254.6H44.3M64.5 245.9H44.3V262.6H64.5M56.4 249V260.2M56.4 254.6H68.6M68.6 231.9V275.6M122.5 231.9V275.6M68.6 231.9H76.0M118 231.9H122.5M68.6 275.6H82.6M103.1 267.3H82.6V284.4H103.1M96.9 269.8V282M96.9 275.6H122.5M122.5 254.6H124" fill="none" stroke="#1a1a1a" stroke-width="1.55" stroke-linecap="square"/>
<g fill="none" stroke="#1a1a1a" stroke-width="1.45" stroke-linecap="round"><path d="M76.00 231.90C80.12 231.90 79.30 226.20 84.84 226.20M110.49 226.20C114.76 226.20 113.95 231.90 118.00 231.90"/><ellipse cx="84.24" cy="230.60" rx="2.27" ry="4.40" transform="rotate(-9 84.24 230.60)"/><ellipse cx="87.90" cy="230.60" rx="2.27" ry="4.40" transform="rotate(-9 87.90 230.60)"/><ellipse cx="91.57" cy="230.60" rx="2.27" ry="4.40" transform="rotate(-9 91.57 230.60)"/><ellipse cx="95.23" cy="230.60" rx="2.27" ry="4.40" transform="rotate(-9 95.23 230.60)"/><ellipse cx="98.90" cy="230.60" rx="2.27" ry="4.40" transform="rotate(-9 98.90 230.60)"/><ellipse cx="102.56" cy="230.60" rx="2.27" ry="4.40" transform="rotate(-9 102.56 230.60)"/><ellipse cx="106.23" cy="230.60" rx="2.27" ry="4.40" transform="rotate(-9 106.23 230.60)"/><ellipse cx="109.89" cy="230.60" rx="2.27" ry="4.40" transform="rotate(-9 109.89 230.60)"/></g>
<g fill="none" stroke="#1a1a1a" stroke-width="1.45" stroke-linecap="round"><path d="M124.00 254.60C128.24 254.60 127.39 248.50 133.08 248.50M155.21 248.50C159.52 248.50 158.70 254.60 162.80 254.60"/><ellipse cx="132.48" cy="252.65" rx="1.96" ry="4.15" transform="rotate(-9 132.48 252.65)"/><ellipse cx="135.64" cy="252.65" rx="1.96" ry="4.15" transform="rotate(-9 135.64 252.65)"/><ellipse cx="138.80" cy="252.65" rx="1.96" ry="4.15" transform="rotate(-9 138.80 252.65)"/><ellipse cx="141.96" cy="252.65" rx="1.96" ry="4.15" transform="rotate(-9 141.96 252.65)"/><ellipse cx="145.12" cy="252.65" rx="1.96" ry="4.15" transform="rotate(-9 145.12 252.65)"/><ellipse cx="148.28" cy="252.65" rx="1.96" ry="4.15" transform="rotate(-9 148.28 252.65)"/><ellipse cx="151.45" cy="252.65" rx="1.96" ry="4.15" transform="rotate(-9 151.45 252.65)"/><ellipse cx="154.61" cy="252.65" rx="1.96" ry="4.15" transform="rotate(-9 154.61 252.65)"/></g>
<circle cx="166.4" cy="254.6" r="3.7" fill="#fff" stroke="#1a1a1a" stroke-width="1.55"/>
<text transform="translate(88.9 218.6) scale(1.22 1)" font-size="19" font-family='"Liberation Serif", "DejaVu Serif", serif' fill="#1a1a1a">κ</text>
<text x="100.00" y="222.80" font-size="12.5" text-anchor="start" fill="#1a1a1a" font-family='"Liberation Serif", "DejaVu Serif", serif' >1</text>
<text transform="translate(137.0 240.8) scale(1.22 1)" font-size="19" font-family='"Liberation Serif", "DejaVu Serif", serif' fill="#1a1a1a">κ</text>
<text x="147.40" y="245.40" font-size="12.5" text-anchor="start" fill="#1a1a1a" font-family='"Liberation Serif", "DejaVu Serif", serif' >2</text>
<text x="50.50" y="276.50" font-size="16" text-anchor="start" fill="#222" font-family='"Liberation Serif", "DejaVu Serif", serif' ><tspan font-style="italic">η</tspan><tspan font-size="11" dy="3.5">2</tspan></text>
<text x="88.50" y="297.00" font-size="16" text-anchor="start" fill="#222" font-family='"Liberation Serif", "DejaVu Serif", serif' ><tspan font-style="italic">η</tspan><tspan font-size="11" dy="3.5">1</tspan></text>
<text x="33.30" y="223.70" font-size="17" text-anchor="start" fill="#000" font-weight="bold" >b</text>
<rect x="319.4" y="35.9" width="69.0" height="88.5" fill="#fff" stroke="none"/>
<circle cx="334.00" cy="39.60" r="2.3" fill="#933fbc" fill-opacity="0.6"/>
<circle cx="332.20" cy="82.00" r="2.3" fill="#933fbc" fill-opacity="0.6"/>
<circle cx="330.80" cy="90.90" r="2.3" fill="#933fbc" fill-opacity="0.6"/>
<circle cx="331.30" cy="101.20" r="2.3" fill="#933fbc" fill-opacity="0.6"/>
<circle cx="327.00" cy="105.00" r="2.3" fill="#933fbc" fill-opacity="0.6"/>
<circle cx="332.20" cy="106.00" r="2.3" fill="#933fbc" fill-opacity="0.6"/>
<circle cx="335.90" cy="108.90" r="2.3" fill="#933fbc" fill-opacity="0.6"/>
<circle cx="327.90" cy="111.50" r="2.3" fill="#933fbc" fill-opacity="0.6"/>
<circle cx="331.30" cy="113.20" r="2.3" fill="#933fbc" fill-opacity="0.6"/>
<circle cx="334.70" cy="118.40" r="2.3" fill="#933fbc" fill-opacity="0.6"/>
<circle cx="331.30" cy="117.50" r="2.3" fill="#933fbc" fill-opacity="0.6"/>
<circle cx="328.70" cy="108.00" r="2.3" fill="#933fbc" fill-opacity="0.6"/>
<circle cx="352.40" cy="75.10" r="2.3" fill="#71bc26" fill-opacity="0.6"/>
<circle cx="350.20" cy="104.60" r="2.3" fill="#71bc26" fill-opacity="0.6"/>
<circle cx="354.50" cy="102.90" r="2.3" fill="#71bc26" fill-opacity="0.6"/>
<circle cx="351.90" cy="105.50" r="2.3" fill="#71bc26" fill-opacity="0.6"/>
<circle cx="349.30" cy="108.00" r="2.3" fill="#71bc26" fill-opacity="0.6"/>
<circle cx="351.00" cy="110.60" r="2.3" fill="#71bc26" fill-opacity="0.6"/>
<circle cx="350.20" cy="113.20" r="2.3" fill="#71bc26" fill-opacity="0.6"/>
<circle cx="353.60" cy="117.50" r="2.3" fill="#71bc26" fill-opacity="0.6"/>
<circle cx="355.30" cy="106.40" r="2.3" fill="#71bc26" fill-opacity="0.6"/>
<circle cx="349.00" cy="106.00" r="2.3" fill="#71bc26" fill-opacity="0.6"/>
<circle cx="352.50" cy="108.50" r="2.3" fill="#71bc26" fill-opacity="0.6"/>
<circle cx="380.20" cy="60.00" r="2.3" fill="#dfb10d" fill-opacity="0.6"/>
<circle cx="376.50" cy="83.20" r="2.3" fill="#dfb10d" fill-opacity="0.6"/>
<circle cx="374.20" cy="95.20" r="2.3" fill="#dfb10d" fill-opacity="0.6"/>
<circle cx="373.40" cy="101.20" r="2.3" fill="#dfb10d" fill-opacity="0.6"/>
<circle cx="377.70" cy="102.00" r="2.3" fill="#dfb10d" fill-opacity="0.6"/>
<circle cx="375.10" cy="105.50" r="2.3" fill="#dfb10d" fill-opacity="0.6"/>
<circle cx="376.80" cy="110.60" r="2.3" fill="#dfb10d" fill-opacity="0.6"/>
<circle cx="372.50" cy="112.40" r="2.3" fill="#dfb10d" fill-opacity="0.6"/>
<circle cx="379.40" cy="114.90" r="2.3" fill="#dfb10d" fill-opacity="0.6"/>
<circle cx="374.20" cy="118.40" r="2.3" fill="#dfb10d" fill-opacity="0.6"/>
<circle cx="377.70" cy="117.50" r="2.3" fill="#dfb10d" fill-opacity="0.6"/>
<circle cx="376.00" cy="108.00" r="2.3" fill="#dfb10d" fill-opacity="0.6"/>
<path d="M325.60 93.45H336.20V109.56H325.60ZM325.60 104.47H336.20M328.20 82.00h5.4M328.20 118.89h5.4" fill="none" stroke="#000" stroke-width="1"/>
<path d="M330.90 93.45V82.00M330.90 118.89V109.56" fill="none" stroke="#000" stroke-width="1" stroke-dasharray="8.8 6.2"/>
<path d="M348.60 102.78H359.20V111.26H348.60ZM348.60 108.29H359.20M351.20 102.35h5.4M351.20 117.62h5.4" fill="none" stroke="#000" stroke-width="1"/>
<path d="M353.90 102.78V102.35M353.90 117.62V111.26" fill="none" stroke="#000" stroke-width="1" stroke-dasharray="8.8 6.2"/>
<path d="M371.60 97.48H382.20V112.95H371.60ZM371.60 107.02H382.20M374.20 83.27h5.4M374.20 118.04h5.4" fill="none" stroke="#000" stroke-width="1"/>
<path d="M376.90 97.48V83.27M376.90 118.04V112.95" fill="none" stroke="#000" stroke-width="1" stroke-dasharray="8.8 6.2"/>
<path d="M330.90 124.4v-2M330.90 35.9v2M353.90 124.4v-2M353.90 35.9v2M376.90 124.4v-2M376.90 35.9v2M319.4 124.40h2.2M388.4 124.40h-2.2M319.4 82.00h2.2M388.4 82.00h-2.2M319.4 39.60h2.2M388.4 39.60h-2.2" stroke="#262626" stroke-width="0.8" fill="none"/>
<rect x="319.4" y="35.9" width="69.0" height="88.5" fill="none" stroke="#262626" stroke-width="1.1"/>
<text x="330.90" y="137.70" font-size="11.5" text-anchor="middle" fill="#262626" >KD</text>
<text x="353.90" y="137.70" font-size="11.5" text-anchor="middle" fill="#262626" >WT</text>
<text x="376.90" y="137.70" font-size="11.5" text-anchor="middle" fill="#262626" >OE</text>
<text x="315.80" y="128.30" font-size="10.8" text-anchor="end" fill="#262626" >0</text>
<text x="315.80" y="85.90" font-size="10.8" text-anchor="end" fill="#262626" >1</text>
<text x="315.80" y="43.50" font-size="10.8" text-anchor="end" fill="#262626" >2</text>
<text x="284.80" y="22.80" font-size="17" text-anchor="start" fill="#000" font-weight="bold" >c</text>
<text x="317.50" y="23.70" font-size="16.7" text-anchor="start" fill="#000" >Gel-like components</text>
<text x="298.60" y="81.00" font-size="15" text-anchor="middle" fill="#262626" transform="rotate(-90 298.60 81.00)"><tspan font-family='"Liberation Serif", "DejaVu Serif", serif' font-style="italic" font-size="18.0" fill="#3c3c3c">κ</tspan><tspan font-size="13" dy="7.8">1</tspan></text>
<rect x="442.7" y="33.6" width="65.0" height="90.1" fill="#fff" stroke="none"/>
<circle cx="454.33" cy="58.80" r="2.3" fill="#933fbc" fill-opacity="0.6"/>
<circle cx="452.43" cy="79.30" r="2.3" fill="#933fbc" fill-opacity="0.6"/>
<circle cx="454.33" cy="81.00" r="2.3" fill="#933fbc" fill-opacity="0.6"/>
<circle cx="451.23" cy="84.10" r="2.3" fill="#933fbc" fill-opacity="0.6"/>
<circle cx="456.03" cy="86.50" r="2.3" fill="#933fbc" fill-opacity="0.6"/>
<circle cx="452.43" cy="90.10" r="2.3" fill="#933fbc" fill-opacity="0.6"/>
<circle cx="454.83" cy="93.00" r="2.3" fill="#933fbc" fill-opacity="0.6"/>
<circle cx="457.23" cy="98.50" r="2.3" fill="#933fbc" fill-opacity="0.6"/>
<circle cx="451.23" cy="103.30" r="2.3" fill="#933fbc" fill-opacity="0.6"/>
<circle cx="452.93" cy="87.70" r="2.3" fill="#933fbc" fill-opacity="0.6"/>
<circle cx="477.70" cy="53.60" r="2.3" fill="#71bc26" fill-opacity="0.6"/>
<circle cx="475.30" cy="66.50" r="2.3" fill="#71bc26" fill-opacity="0.6"/>
<circle cx="476.50" cy="73.30" r="2.3" fill="#71bc26" fill-opacity="0.6"/>
<circle cx="471.70" cy="76.90" r="2.3" fill="#71bc26" fill-opacity="0.6"/>
<circle cx="474.10" cy="80.50" r="2.3" fill="#71bc26" fill-opacity="0.6"/>
<circle cx="472.10" cy="84.10" r="2.3" fill="#71bc26" fill-opacity="0.6"/>
<circle cx="476.50" cy="85.80" r="2.3" fill="#71bc26" fill-opacity="0.6"/>
<circle cx="473.60" cy="87.70" r="2.3" fill="#71bc26" fill-opacity="0.6"/>
<circle cx="475.30" cy="92.00" r="2.3" fill="#71bc26" fill-opacity="0.6"/>
<circle cx="477.70" cy="83.40" r="2.3" fill="#71bc26" fill-opacity="0.6"/>
<circle cx="500.97" cy="36.70" r="2.3" fill="#dfb10d" fill-opacity="0.6"/>
<circle cx="499.97" cy="45.10" r="2.3" fill="#dfb10d" fill-opacity="0.6"/>
<circle cx="496.87" cy="74.50" r="2.3" fill="#dfb10d" fill-opacity="0.6"/>
<circle cx="495.67" cy="76.90" r="2.3" fill="#dfb10d" fill-opacity="0.6"/>
<circle cx="498.07" cy="75.70" r="2.3" fill="#dfb10d" fill-opacity="0.6"/>
<circle cx="496.37" cy="81.70" r="2.3" fill="#dfb10d" fill-opacity="0.6"/>
<circle cx="497.57" cy="88.90" r="2.3" fill="#dfb10d" fill-opacity="0.6"/>
<circle cx="496.37" cy="94.40" r="2.3" fill="#dfb10d" fill-opacity="0.6"/>
<circle cx="496.87" cy="98.50" r="2.3" fill="#dfb10d" fill-opacity="0.6"/>
<circle cx="493.97" cy="114.10" r="2.3" fill="#dfb10d" fill-opacity="0.6"/>
<path d="M448.23 80.50H458.83V94.40H448.23ZM448.23 86.50H458.83M450.83 78.80h5.4M450.83 103.30h5.4" fill="none" stroke="#000" stroke-width="1"/>
<path d="M453.53 80.50V78.80M453.53 103.30V94.40" fill="none" stroke="#000" stroke-width="1" stroke-dasharray="8.8 6.2"/>
<path d="M469.90 72.80H480.50V88.20H469.90ZM469.90 83.40H480.50M472.50 66.50h5.4M472.50 92.50h5.4" fill="none" stroke="#000" stroke-width="1"/>
<path d="M475.20 72.80V66.50M475.20 92.50V88.20" fill="none" stroke="#000" stroke-width="1" stroke-dasharray="8.8 6.2"/>
<path d="M491.57 74.50H502.17V92.50H491.57ZM491.57 79.30H502.17M494.17 74.00h5.4M494.17 114.60h5.4" fill="none" stroke="#000" stroke-width="1"/>
<path d="M496.87 74.50V74.00M496.87 114.60V92.50" fill="none" stroke="#000" stroke-width="1" stroke-dasharray="8.8 6.2"/>
<path d="M453.53 123.7v-2M453.53 33.6v2M475.20 123.7v-2M475.20 33.6v2M496.87 123.7v-2M496.87 33.6v2M442.7 81.40h2.2M507.7 81.40h-2.2M442.7 114.51h1.2M507.7 114.51h-1.2M442.7 105.80h1.2M507.7 105.80h-1.2M442.7 98.44h1.2M507.7 98.44h-1.2M442.7 92.06h1.2M507.7 92.06h-1.2M442.7 86.43h1.2M507.7 86.43h-1.2M442.7 48.29h1.2M507.7 48.29h-1.2" stroke="#262626" stroke-width="0.8" fill="none"/>
<rect x="442.7" y="33.6" width="65.0" height="90.1" fill="none" stroke="#262626" stroke-width="1.1"/>
<text x="453.53" y="137.20" font-size="11.5" text-anchor="middle" fill="#262626" >KD</text>
<text x="475.20" y="137.20" font-size="11.5" text-anchor="middle" fill="#262626" >WT</text>
<text x="496.87" y="137.20" font-size="11.5" text-anchor="middle" fill="#262626" >OE</text>
<text x="439.50" y="87.60" font-size="11.3" text-anchor="end" fill="#262626">10<tspan font-size="8.7" dy="-5.6">-2</tspan></text>
<text x="406.70" y="78.80" font-size="15" text-anchor="middle" fill="#262626" transform="rotate(-90 406.70 78.80)"><tspan font-family='"Liberation Serif", "DejaVu Serif", serif' font-style="italic" font-size="18.0" fill="#3c3c3c">η</tspan><tspan font-size="13" dy="7.8">1</tspan></text>
<rect x="319.4" y="175.2" width="68.40000000000003" height="92.10000000000002" fill="#fff" stroke="none"/>
<circle cx="334.80" cy="232.60" r="2.3" fill="#933fbc" fill-opacity="0.6"/>
<circle cx="333.60" cy="235.20" r="2.3" fill="#933fbc" fill-opacity="0.6"/>
<circle cx="329.80" cy="236.00" r="2.3" fill="#933fbc" fill-opacity="0.6"/>
<circle cx="332.30" cy="238.00" r="2.3" fill="#933fbc" fill-opacity="0.6"/>
<circle cx="327.80" cy="239.50" r="2.3" fill="#933fbc" fill-opacity="0.6"/>
<circle cx="331.30" cy="241.00" r="2.3" fill="#933fbc" fill-opacity="0.6"/>
<circle cx="328.80" cy="242.00" r="2.3" fill="#933fbc" fill-opacity="0.6"/>
<circle cx="333.80" cy="243.00" r="2.3" fill="#933fbc" fill-opacity="0.6"/>
<circle cx="330.30" cy="244.50" r="2.3" fill="#933fbc" fill-opacity="0.6"/>
<circle cx="332.30" cy="246.00" r="2.3" fill="#933fbc" fill-opacity="0.6"/>
<circle cx="327.30" cy="247.50" r="2.3" fill="#933fbc" fill-opacity="0.6"/>
<circle cx="333.30" cy="249.00" r="2.3" fill="#933fbc" fill-opacity="0.6"/>
<circle cx="329.30" cy="251.00" r="2.3" fill="#933fbc" fill-opacity="0.6"/>
<circle cx="330.80" cy="255.00" r="2.3" fill="#933fbc" fill-opacity="0.6"/>
<circle cx="355.90" cy="188.90" r="2.3" fill="#71bc26" fill-opacity="0.6"/>
<circle cx="353.30" cy="190.90" r="2.3" fill="#71bc26" fill-opacity="0.6"/>
<circle cx="349.00" cy="204.80" r="2.3" fill="#71bc26" fill-opacity="0.6"/>
<circle cx="352.60" cy="213.00" r="2.3" fill="#71bc26" fill-opacity="0.6"/>
<circle cx="356.90" cy="218.00" r="2.3" fill="#71bc26" fill-opacity="0.6"/>
<circle cx="350.00" cy="228.70" r="2.3" fill="#71bc26" fill-opacity="0.6"/>
<circle cx="356.90" cy="238.50" r="2.3" fill="#71bc26" fill-opacity="0.6"/>
<circle cx="352.60" cy="243.40" r="2.3" fill="#71bc26" fill-opacity="0.6"/>
<circle cx="350.60" cy="208.00" r="2.3" fill="#71bc26" fill-opacity="0.6"/>
<circle cx="354.10" cy="222.00" r="2.3" fill="#71bc26" fill-opacity="0.6"/>
<circle cx="351.10" cy="233.00" r="2.3" fill="#71bc26" fill-opacity="0.6"/>
<circle cx="379.90" cy="208.50" r="2.3" fill="#dfb10d" fill-opacity="0.6"/>
<circle cx="377.40" cy="215.00" r="2.3" fill="#dfb10d" fill-opacity="0.6"/>
<circle cx="376.00" cy="228.10" r="2.3" fill="#dfb10d" fill-opacity="0.6"/>
<circle cx="379.40" cy="233.00" r="2.3" fill="#dfb10d" fill-opacity="0.6"/>
<circle cx="373.40" cy="238.00" r="2.3" fill="#dfb10d" fill-opacity="0.6"/>
<circle cx="376.90" cy="241.00" r="2.3" fill="#dfb10d" fill-opacity="0.6"/>
<circle cx="374.40" cy="243.00" r="2.3" fill="#dfb10d" fill-opacity="0.6"/>
<circle cx="378.90" cy="244.00" r="2.3" fill="#dfb10d" fill-opacity="0.6"/>
<circle cx="375.90" cy="246.00" r="2.3" fill="#dfb10d" fill-opacity="0.6"/>
<circle cx="377.90" cy="248.00" r="2.3" fill="#dfb10d" fill-opacity="0.6"/>
<circle cx="372.90" cy="250.00" r="2.3" fill="#dfb10d" fill-opacity="0.6"/>
<circle cx="379.90" cy="253.00" r="2.3" fill="#dfb10d" fill-opacity="0.6"/>
<circle cx="376.40" cy="257.00" r="2.3" fill="#dfb10d" fill-opacity="0.6"/>
<circle cx="372.70" cy="265.90" r="2.3" fill="#dfb10d" fill-opacity="0.6"/>
<path d="M325.50 238.50H336.10V247.00H325.50ZM325.50 242.20H336.10M328.10 232.30h5.4M328.10 255.00h5.4" fill="none" stroke="#000" stroke-width="1"/>
<path d="M330.80 238.50V232.30M330.80 255.00V247.00" fill="none" stroke="#000" stroke-width="1" stroke-dasharray="8.8 6.2"/>
<path d="M348.30 205.20H358.90V234.00H348.30ZM348.30 215.60H358.90M350.90 204.60h5.4M350.90 243.90h5.4" fill="none" stroke="#000" stroke-width="1"/>
<path d="M353.60 205.20V204.60M353.60 243.90V234.00" fill="none" stroke="#000" stroke-width="1" stroke-dasharray="8.8 6.2"/>
<path d="M371.10 232.60H381.70V247.00H371.10ZM371.10 242.80H381.70M373.70 227.70h5.4M373.70 266.80h5.4" fill="none" stroke="#000" stroke-width="1"/>
<path d="M376.40 232.60V227.70M376.40 266.80V247.00" fill="none" stroke="#000" stroke-width="1" stroke-dasharray="8.8 6.2"/>
<path d="M330.80 267.3v-2M330.80 175.2v2M353.60 267.3v-2M353.60 175.2v2M376.40 267.3v-2M376.40 175.2v2M319.4 175.40h2.2M387.8 175.40h-2.2M319.4 237.00h2.2M387.8 237.00h-2.2M319.4 206.20h2.2M387.8 206.20h-2.2M319.4 258.53h1.2M387.8 258.53h-1.2M319.4 253.10h1.2M387.8 253.10h-1.2M319.4 249.26h1.2M387.8 249.26h-1.2M319.4 246.27h1.2M387.8 246.27h-1.2M319.4 243.83h1.2M387.8 243.83h-1.2M319.4 241.77h1.2M387.8 241.77h-1.2M319.4 239.98h1.2M387.8 239.98h-1.2M319.4 238.41h1.2M387.8 238.41h-1.2M319.4 227.73h1.2M387.8 227.73h-1.2M319.4 222.30h1.2M387.8 222.30h-1.2M319.4 218.46h1.2M387.8 218.46h-1.2M319.4 215.47h1.2M387.8 215.47h-1.2M319.4 213.03h1.2M387.8 213.03h-1.2M319.4 210.97h1.2M387.8 210.97h-1.2M319.4 209.18h1.2M387.8 209.18h-1.2M319.4 207.61h1.2M387.8 207.61h-1.2M319.4 196.93h1.2M387.8 196.93h-1.2M319.4 191.50h1.2M387.8 191.50h-1.2M319.4 187.66h1.2M387.8 187.66h-1.2M319.4 184.67h1.2M387.8 184.67h-1.2M319.4 182.23h1.2M387.8 182.23h-1.2M319.4 180.17h1.2M387.8 180.17h-1.2M319.4 178.38h1.2M387.8 178.38h-1.2M319.4 176.81h1.2M387.8 176.81h-1.2" stroke="#262626" stroke-width="0.8" fill="none"/>
<rect x="319.4" y="175.2" width="68.40000000000003" height="92.10000000000002" fill="none" stroke="#262626" stroke-width="1.1"/>
<text x="330.80" y="280.80" font-size="11.5" text-anchor="middle" fill="#262626" >KD</text>
<text x="353.60" y="280.80" font-size="11.5" text-anchor="middle" fill="#262626" >WT</text>
<text x="376.40" y="280.80" font-size="11.5" text-anchor="middle" fill="#262626" >OE</text>
<text x="316.20" y="181.60" font-size="11.3" text-anchor="end" fill="#262626">10<tspan font-size="8.7" dy="-5.6">2</tspan></text>
<text x="316.20" y="243.20" font-size="11.3" text-anchor="end" fill="#262626">10<tspan font-size="8.7" dy="-5.6">0</tspan></text>
<text x="285.60" y="164.70" font-size="17" text-anchor="start" fill="#000" font-weight="bold" >d</text>
<text x="317.50" y="164.90" font-size="16.7" text-anchor="start" fill="#000" >Liquid-like components</text>
<text x="286.70" y="220.70" font-size="15" text-anchor="middle" fill="#262626" transform="rotate(-90 286.70 220.70)"><tspan font-family='"Liberation Serif", "DejaVu Serif", serif' font-style="italic" font-size="18.0" fill="#3c3c3c">κ</tspan><tspan font-size="13" dy="7.8">2</tspan></text>
<text x="331.15" y="229.75" font-size="20" text-anchor="middle" fill="#000" stroke="#000" stroke-width="0.35">**</text>
<text x="374.60" y="204.05" font-size="20" text-anchor="middle" fill="#000" stroke="#000" stroke-width="0.35">*</text>
<rect x="443.0" y="175.3" width="65.30000000000001" height="87.89999999999998" fill="#fff" stroke="none"/>
<circle cx="450.88" cy="248.60" r="2.3" fill="#933fbc" fill-opacity="0.6"/>
<circle cx="456.88" cy="249.00" r="2.3" fill="#933fbc" fill-opacity="0.6"/>
<circle cx="452.88" cy="250.00" r="2.3" fill="#933fbc" fill-opacity="0.6"/>
<circle cx="455.38" cy="251.00" r="2.3" fill="#933fbc" fill-opacity="0.6"/>
<circle cx="450.38" cy="252.00" r="2.3" fill="#933fbc" fill-opacity="0.6"/>
<circle cx="453.88" cy="252.50" r="2.3" fill="#933fbc" fill-opacity="0.6"/>
<circle cx="456.88" cy="253.00" r="2.3" fill="#933fbc" fill-opacity="0.6"/>
<circle cx="451.88" cy="253.80" r="2.3" fill="#933fbc" fill-opacity="0.6"/>
<circle cx="455.88" cy="254.30" r="2.3" fill="#933fbc" fill-opacity="0.6"/>
<circle cx="453.38" cy="255.00" r="2.3" fill="#933fbc" fill-opacity="0.6"/>
<circle cx="450.88" cy="255.50" r="2.3" fill="#933fbc" fill-opacity="0.6"/>
<circle cx="454.88" cy="256.50" r="2.3" fill="#933fbc" fill-opacity="0.6"/>
<circle cx="457.38" cy="257.00" r="2.3" fill="#933fbc" fill-opacity="0.6"/>
<circle cx="452.38" cy="258.00" r="2.3" fill="#933fbc" fill-opacity="0.6"/>
<circle cx="456.38" cy="259.50" r="2.3" fill="#933fbc" fill-opacity="0.6"/>
<circle cx="454.38" cy="260.70" r="2.3" fill="#933fbc" fill-opacity="0.6"/>
<circle cx="471.85" cy="179.80" r="2.3" fill="#71bc26" fill-opacity="0.6"/>
<circle cx="475.45" cy="188.40" r="2.3" fill="#71bc26" fill-opacity="0.6"/>
<circle cx="477.95" cy="192.50" r="2.3" fill="#71bc26" fill-opacity="0.6"/>
<circle cx="479.15" cy="203.00" r="2.3" fill="#71bc26" fill-opacity="0.6"/>
<circle cx="478.65" cy="208.00" r="2.3" fill="#71bc26" fill-opacity="0.6"/>
<circle cx="471.85" cy="216.00" r="2.3" fill="#71bc26" fill-opacity="0.6"/>
<circle cx="471.85" cy="220.20" r="2.3" fill="#71bc26" fill-opacity="0.6"/>
<circle cx="476.75" cy="221.50" r="2.3" fill="#71bc26" fill-opacity="0.6"/>
<circle cx="479.15" cy="226.90" r="2.3" fill="#71bc26" fill-opacity="0.6"/>
<circle cx="471.85" cy="230.80" r="2.3" fill="#71bc26" fill-opacity="0.6"/>
<circle cx="475.45" cy="225.10" r="2.3" fill="#71bc26" fill-opacity="0.6"/>
<circle cx="494.02" cy="242.50" r="2.3" fill="#dfb10d" fill-opacity="0.6"/>
<circle cx="500.22" cy="248.00" r="2.3" fill="#dfb10d" fill-opacity="0.6"/>
<circle cx="494.92" cy="249.50" r="2.3" fill="#dfb10d" fill-opacity="0.6"/>
<circle cx="498.42" cy="250.50" r="2.3" fill="#dfb10d" fill-opacity="0.6"/>
<circle cx="500.92" cy="251.50" r="2.3" fill="#dfb10d" fill-opacity="0.6"/>
<circle cx="493.92" cy="252.50" r="2.3" fill="#dfb10d" fill-opacity="0.6"/>
<circle cx="497.42" cy="253.50" r="2.3" fill="#dfb10d" fill-opacity="0.6"/>
<circle cx="499.92" cy="254.50" r="2.3" fill="#dfb10d" fill-opacity="0.6"/>
<circle cx="496.42" cy="256.00" r="2.3" fill="#dfb10d" fill-opacity="0.6"/>
<circle cx="494.42" cy="257.00" r="2.3" fill="#dfb10d" fill-opacity="0.6"/>
<circle cx="499.42" cy="258.00" r="2.3" fill="#dfb10d" fill-opacity="0.6"/>
<circle cx="501.42" cy="259.00" r="2.3" fill="#dfb10d" fill-opacity="0.6"/>
<path d="M448.58 252.10H459.18V255.80H448.58ZM448.58 253.90H459.18M451.18 248.40h5.4M451.18 258.30h5.4" fill="none" stroke="#000" stroke-width="1"/>
<path d="M453.88 252.10V248.40M453.88 258.30V255.80" fill="none" stroke="#000" stroke-width="1" stroke-dasharray="8.8 6.2"/>
<path d="M470.35 197.50H480.95V223.90H470.35ZM470.35 217.00H480.95M472.95 179.80h5.4M472.95 231.30h5.4" fill="none" stroke="#000" stroke-width="1"/>
<path d="M475.65 197.50V179.80M475.65 231.30V223.90" fill="none" stroke="#000" stroke-width="1" stroke-dasharray="8.8 6.2"/>
<path d="M492.12 247.90H502.72V257.00H492.12ZM492.12 252.10H502.72M494.72 242.80h5.4M494.72 258.60h5.4" fill="none" stroke="#000" stroke-width="1"/>
<path d="M497.42 247.90V242.80M497.42 258.60V257.00" fill="none" stroke="#000" stroke-width="1" stroke-dasharray="8.8 6.2"/>
<path d="M453.88 263.2v-2M453.88 175.3v2M475.65 263.2v-2M475.65 175.3v2M497.42 263.2v-2M497.42 175.3v2M443.0 260.00h2.2M508.3 260.00h-2.2M443.0 236.15h2.2M508.3 236.15h-2.2M443.0 212.30h2.2M508.3 212.30h-2.2M443.0 188.45h2.2M508.3 188.45h-2.2" stroke="#262626" stroke-width="0.8" fill="none"/>
<rect x="443.0" y="175.3" width="65.30000000000001" height="87.89999999999998" fill="none" stroke="#262626" stroke-width="1.1"/>
<text x="453.88" y="276.80" font-size="11.5" text-anchor="middle" fill="#262626" >KD</text>
<text x="475.65" y="276.80" font-size="11.5" text-anchor="middle" fill="#262626" >WT</text>
<text x="497.42" y="276.80" font-size="11.5" text-anchor="middle" fill="#262626" >OE</text>
<text x="439.40" y="263.90" font-size="10.8" text-anchor="end" fill="#262626" >0</text>
<text x="439.40" y="240.05" font-size="10.8" text-anchor="end" fill="#262626" >50</text>
<text x="439.40" y="216.20" font-size="10.8" text-anchor="end" fill="#262626" >100</text>
<text x="439.40" y="192.35" font-size="10.8" text-anchor="end" fill="#262626" >150</text>
<text x="410.00" y="220.00" font-size="15" text-anchor="middle" fill="#262626" transform="rotate(-90 410.00 220.00)"><tspan font-family='"Liberation Serif", "DejaVu Serif", serif' font-style="italic" font-size="18.0" fill="#3c3c3c">η</tspan><tspan font-size="13" dy="7.8">2</tspan></text>
<text x="455.60" y="247.95" font-size="20" text-anchor="middle" fill="#000" stroke="#000" stroke-width="0.35">***</text>
<text x="496.30" y="236.95" font-size="20" text-anchor="middle" fill="#000" stroke="#000" stroke-width="0.35">***</text>
<rect x="201.8" y="299.5" width="65.0" height="92.39999999999998" fill="#fff" stroke="none"/>
<circle cx="210.23" cy="355.00" r="2.3" fill="#933fbc" fill-opacity="0.6"/>
<circle cx="216.33" cy="355.00" r="2.3" fill="#933fbc" fill-opacity="0.6"/>
<circle cx="209.63" cy="364.00" r="2.3" fill="#933fbc" fill-opacity="0.6"/>
<circle cx="212.63" cy="365.50" r="2.3" fill="#933fbc" fill-opacity="0.6"/>
<circle cx="215.13" cy="366.50" r="2.3" fill="#933fbc" fill-opacity="0.6"/>
<circle cx="211.13" cy="367.50" r="2.3" fill="#933fbc" fill-opacity="0.6"/>
<circle cx="213.63" cy="368.00" r="2.3" fill="#933fbc" fill-opacity="0.6"/>
<circle cx="216.13" cy="368.50" r="2.3" fill="#933fbc" fill-opacity="0.6"/>
<circle cx="209.13" cy="369.00" r="2.3" fill="#933fbc" fill-opacity="0.6"/>
<circle cx="212.13" cy="369.50" r="2.3" fill="#933fbc" fill-opacity="0.6"/>
<circle cx="214.63" cy="370.00" r="2.3" fill="#933fbc" fill-opacity="0.6"/>
<circle cx="210.63" cy="371.00" r="2.3" fill="#933fbc" fill-opacity="0.6"/>
<circle cx="213.13" cy="372.00" r="2.3" fill="#933fbc" fill-opacity="0.6"/>
<circle cx="215.63" cy="373.00" r="2.3" fill="#933fbc" fill-opacity="0.6"/>
<circle cx="211.63" cy="374.50" r="2.3" fill="#933fbc" fill-opacity="0.6"/>
<circle cx="231.40" cy="336.70" r="2.3" fill="#71bc26" fill-opacity="0.6"/>
<circle cx="236.80" cy="335.40" r="2.3" fill="#71bc26" fill-opacity="0.6"/>
<circle cx="237.30" cy="341.60" r="2.3" fill="#71bc26" fill-opacity="0.6"/>
<circle cx="231.90" cy="345.20" r="2.3" fill="#71bc26" fill-opacity="0.6"/>
<circle cx="234.30" cy="347.70" r="2.3" fill="#71bc26" fill-opacity="0.6"/>
<circle cx="230.60" cy="358.20" r="2.3" fill="#71bc26" fill-opacity="0.6"/>
<circle cx="234.30" cy="359.20" r="2.3" fill="#71bc26" fill-opacity="0.6"/>
<circle cx="237.30" cy="361.20" r="2.3" fill="#71bc26" fill-opacity="0.6"/>
<circle cx="231.90" cy="369.80" r="2.3" fill="#71bc26" fill-opacity="0.6"/>
<circle cx="234.30" cy="353.80" r="2.3" fill="#71bc26" fill-opacity="0.6"/>
<circle cx="236.30" cy="350.00" r="2.3" fill="#71bc26" fill-opacity="0.6"/>
<circle cx="252.47" cy="310.20" r="2.3" fill="#dfb10d" fill-opacity="0.6"/>
<circle cx="254.17" cy="314.10" r="2.3" fill="#dfb10d" fill-opacity="0.6"/>
<circle cx="253.67" cy="342.80" r="2.3" fill="#dfb10d" fill-opacity="0.6"/>
<circle cx="254.47" cy="347.70" r="2.3" fill="#dfb10d" fill-opacity="0.6"/>
<circle cx="253.67" cy="351.90" r="2.3" fill="#dfb10d" fill-opacity="0.6"/>
<circle cx="252.97" cy="368.00" r="2.3" fill="#dfb10d" fill-opacity="0.6"/>
<circle cx="252.47" cy="378.30" r="2.3" fill="#dfb10d" fill-opacity="0.6"/>
<circle cx="252.97" cy="387.60" r="2.3" fill="#dfb10d" fill-opacity="0.6"/>
<circle cx="254.87" cy="341.00" r="2.3" fill="#dfb10d" fill-opacity="0.6"/>
<path d="M207.33 366.10H217.93V371.00H207.33ZM207.33 368.60H217.93M209.93 364.50h5.4M209.93 373.30h5.4" fill="none" stroke="#000" stroke-width="1"/>
<path d="M212.63 366.10V364.50M212.63 373.30V371.00" fill="none" stroke="#000" stroke-width="1" stroke-dasharray="8.8 6.2"/>
<path d="M229.00 342.80H239.60V360.70H229.00ZM229.00 352.60H239.60M231.60 335.40h5.4M231.60 369.30h5.4" fill="none" stroke="#000" stroke-width="1"/>
<path d="M234.30 342.80V335.40M234.30 369.30V360.70" fill="none" stroke="#000" stroke-width="1" stroke-dasharray="8.8 6.2"/>
<path d="M250.67 343.50H261.27V373.40H250.67ZM250.67 349.40H261.27M253.27 342.90h5.4M253.27 387.60h5.4" fill="none" stroke="#000" stroke-width="1"/>
<path d="M255.97 343.50V342.90M255.97 387.60V373.40" fill="none" stroke="#000" stroke-width="1" stroke-dasharray="8.8 6.2"/>
<path d="M212.63 391.9v-2M212.63 299.5v2M234.30 391.9v-2M234.30 299.5v2M255.97 391.9v-2M255.97 299.5v2M201.8 324.10h2.2M266.8 324.10h-2.2M201.8 376.50h2.2M266.8 376.50h-2.2M201.8 388.12h1.2M266.8 388.12h-1.2M201.8 384.62h1.2M266.8 384.62h-1.2M201.8 381.58h1.2M266.8 381.58h-1.2M201.8 378.90h1.2M266.8 378.90h-1.2M201.8 360.73h1.2M266.8 360.73h-1.2M201.8 351.50h1.2M266.8 351.50h-1.2M201.8 344.95h1.2M266.8 344.95h-1.2M201.8 339.87h1.2M266.8 339.87h-1.2M201.8 335.72h1.2M266.8 335.72h-1.2M201.8 332.22h1.2M266.8 332.22h-1.2M201.8 329.18h1.2M266.8 329.18h-1.2M201.8 326.50h1.2M266.8 326.50h-1.2M201.8 308.33h1.2M266.8 308.33h-1.2" stroke="#262626" stroke-width="0.8" fill="none"/>
<rect x="201.8" y="299.5" width="65.0" height="92.39999999999998" fill="none" stroke="#262626" stroke-width="1.1"/>
<text x="212.63" y="405.70" font-size="11.5" text-anchor="middle" fill="#262626" >KD</text>
<text x="234.30" y="405.70" font-size="11.5" text-anchor="middle" fill="#262626" >WT</text>
<text x="255.97" y="405.70" font-size="11.5" text-anchor="middle" fill="#262626" >OE</text>
<text x="198.20" y="328.00" font-size="10.8" text-anchor="end" fill="#262626" >0.1</text>
<text x="198.20" y="380.40" font-size="10.8" text-anchor="end" fill="#262626" >0.01</text>
<text x="168.30" y="288.60" font-size="17" text-anchor="start" fill="#000" font-weight="bold" >e</text>
<text x="200.00" y="288.80" font-size="16.5" text-anchor="start" fill="#000" >Ratios</text>
<text x="164.50" y="346.50" font-size="15" text-anchor="middle" fill="#262626" transform="rotate(-90 164.50 346.50)"><tspan font-family='"Liberation Serif", "DejaVu Serif", serif' font-style="italic" font-size="18.0" fill="#3c3c3c">η</tspan><tspan font-size="13" dy="7.8">1</tspan><tspan dy="-7.8" font-size="16"> /</tspan><tspan font-family='"Liberation Serif", "DejaVu Serif", serif' font-style="italic" font-size="18.0" fill="#3c3c3c">κ</tspan><tspan font-size="13" dy="7.8">1</tspan></text>
<text x="213.75" y="348.20" font-size="20" text-anchor="middle" fill="#000" stroke="#000" stroke-width="0.35">**</text>
<rect x="318.9" y="299.5" width="68.30000000000001" height="91.89999999999998" fill="#fff" stroke="none"/>
<circle cx="327.28" cy="379.00" r="2.3" fill="#933fbc" fill-opacity="0.6"/>
<circle cx="331.28" cy="378.50" r="2.3" fill="#933fbc" fill-opacity="0.6"/>
<circle cx="333.78" cy="380.00" r="2.3" fill="#933fbc" fill-opacity="0.6"/>
<circle cx="328.78" cy="381.00" r="2.3" fill="#933fbc" fill-opacity="0.6"/>
<circle cx="332.28" cy="381.50" r="2.3" fill="#933fbc" fill-opacity="0.6"/>
<circle cx="326.28" cy="382.50" r="2.3" fill="#933fbc" fill-opacity="0.6"/>
<circle cx="330.28" cy="383.00" r="2.3" fill="#933fbc" fill-opacity="0.6"/>
<circle cx="333.28" cy="383.50" r="2.3" fill="#933fbc" fill-opacity="0.6"/>
<circle cx="327.78" cy="384.00" r="2.3" fill="#933fbc" fill-opacity="0.6"/>
<circle cx="331.28" cy="385.00" r="2.3" fill="#933fbc" fill-opacity="0.6"/>
<circle cx="329.78" cy="386.00" r="2.3" fill="#933fbc" fill-opacity="0.6"/>
<circle cx="326.78" cy="386.50" r="2.3" fill="#933fbc" fill-opacity="0.6"/>
<circle cx="332.78" cy="387.00" r="2.3" fill="#933fbc" fill-opacity="0.6"/>
<circle cx="334.78" cy="385.00" r="2.3" fill="#933fbc" fill-opacity="0.6"/>
<circle cx="329.28" cy="388.50" r="2.3" fill="#933fbc" fill-opacity="0.6"/>
<circle cx="335.78" cy="382.00" r="2.3" fill="#933fbc" fill-opacity="0.6"/>
<circle cx="355.85" cy="311.70" r="2.3" fill="#71bc26" fill-opacity="0.6"/>
<circle cx="349.55" cy="319.00" r="2.3" fill="#71bc26" fill-opacity="0.6"/>
<circle cx="355.85" cy="336.20" r="2.3" fill="#71bc26" fill-opacity="0.6"/>
<circle cx="349.55" cy="341.60" r="2.3" fill="#71bc26" fill-opacity="0.6"/>
<circle cx="351.45" cy="344.00" r="2.3" fill="#71bc26" fill-opacity="0.6"/>
<circle cx="349.05" cy="350.10" r="2.3" fill="#71bc26" fill-opacity="0.6"/>
<circle cx="350.25" cy="353.80" r="2.3" fill="#71bc26" fill-opacity="0.6"/>
<circle cx="353.95" cy="359.20" r="2.3" fill="#71bc26" fill-opacity="0.6"/>
<circle cx="355.65" cy="364.40" r="2.3" fill="#71bc26" fill-opacity="0.6"/>
<circle cx="355.65" cy="379.10" r="2.3" fill="#71bc26" fill-opacity="0.6"/>
<circle cx="355.85" cy="339.10" r="2.3" fill="#71bc26" fill-opacity="0.6"/>
<circle cx="377.92" cy="367.30" r="2.3" fill="#dfb10d" fill-opacity="0.6"/>
<circle cx="375.92" cy="369.00" r="2.3" fill="#dfb10d" fill-opacity="0.6"/>
<circle cx="372.32" cy="380.50" r="2.3" fill="#dfb10d" fill-opacity="0.6"/>
<circle cx="374.82" cy="381.50" r="2.3" fill="#dfb10d" fill-opacity="0.6"/>
<circle cx="377.82" cy="382.50" r="2.3" fill="#dfb10d" fill-opacity="0.6"/>
<circle cx="373.32" cy="383.50" r="2.3" fill="#dfb10d" fill-opacity="0.6"/>
<circle cx="376.32" cy="384.50" r="2.3" fill="#dfb10d" fill-opacity="0.6"/>
<circle cx="378.82" cy="385.00" r="2.3" fill="#dfb10d" fill-opacity="0.6"/>
<circle cx="371.82" cy="385.50" r="2.3" fill="#dfb10d" fill-opacity="0.6"/>
<circle cx="374.32" cy="386.50" r="2.3" fill="#dfb10d" fill-opacity="0.6"/>
<circle cx="377.32" cy="387.00" r="2.3" fill="#dfb10d" fill-opacity="0.6"/>
<circle cx="379.82" cy="384.00" r="2.3" fill="#dfb10d" fill-opacity="0.6"/>
<path d="M324.98 381.30H335.58V385.20H324.98ZM324.98 383.20H335.58M327.58 378.90h5.4M327.58 387.40h5.4" fill="none" stroke="#000" stroke-width="1"/>
<path d="M330.28 381.30V378.90M330.28 387.40V385.20" fill="none" stroke="#000" stroke-width="1" stroke-dasharray="8.8 6.2"/>
<path d="M347.75 337.20H358.35V357.00H347.75ZM347.75 345.70H358.35M350.35 311.70h5.4M350.35 379.10h5.4" fill="none" stroke="#000" stroke-width="1"/>
<path d="M353.05 337.20V311.70M353.05 379.10V357.00" fill="none" stroke="#000" stroke-width="1" stroke-dasharray="8.8 6.2"/>
<path d="M370.52 375.90H381.12V385.00H370.52ZM370.52 382.70H381.12M373.12 366.80h5.4M373.12 387.40h5.4" fill="none" stroke="#000" stroke-width="1"/>
<path d="M375.82 375.90V366.80M375.82 387.40V385.00" fill="none" stroke="#000" stroke-width="1" stroke-dasharray="8.8 6.2"/>
<path d="M330.28 391.4v-2M330.28 299.5v2M353.05 391.4v-2M353.05 299.5v2M375.82 391.4v-2M375.82 299.5v2M318.9 387.70h2.2M387.2 387.70h-2.2M318.9 358.60h2.2M387.2 358.60h-2.2M318.9 329.50h2.2M387.2 329.50h-2.2M318.9 300.40h2.2M387.2 300.40h-2.2" stroke="#262626" stroke-width="0.8" fill="none"/>
<rect x="318.9" y="299.5" width="68.30000000000001" height="91.89999999999998" fill="none" stroke="#262626" stroke-width="1.1"/>
<text x="330.28" y="405.70" font-size="11.5" text-anchor="middle" fill="#262626" >KD</text>
<text x="353.05" y="405.70" font-size="11.5" text-anchor="middle" fill="#262626" >WT</text>
<text x="375.82" y="405.70" font-size="11.5" text-anchor="middle" fill="#262626" >OE</text>
<text x="315.30" y="391.60" font-size="10.8" text-anchor="end" fill="#262626" >0</text>
<text x="315.30" y="362.50" font-size="10.8" text-anchor="end" fill="#262626" >200</text>
<text x="315.30" y="333.40" font-size="10.8" text-anchor="end" fill="#262626" >400</text>
<text x="315.30" y="304.30" font-size="10.8" text-anchor="end" fill="#262626" >600</text>
<text x="286.50" y="346.90" font-size="15" text-anchor="middle" fill="#262626" transform="rotate(-90 286.50 346.90)"><tspan font-family='"Liberation Serif", "DejaVu Serif", serif' font-style="italic" font-size="18.0" fill="#3c3c3c">η</tspan><tspan font-size="13" dy="7.8">2</tspan><tspan dy="-7.8" font-size="16"> / </tspan><tspan font-family='"Liberation Serif", "DejaVu Serif", serif' font-style="italic" font-size="18.0" fill="#3c3c3c">κ</tspan><tspan font-size="13" dy="7.8">1</tspan></text>
<text x="330.10" y="369.90" font-size="20" text-anchor="middle" fill="#000" stroke="#000" stroke-width="0.35">***</text>
<text x="373.90" y="331.30" font-size="20" text-anchor="middle" fill="#000" stroke="#000" stroke-width="0.35">***</text>
<rect x="442.9" y="299.9" width="65.30000000000001" height="91.90000000000003" fill="#fff" stroke="none"/>
<circle cx="453.78" cy="348.40" r="2.3" fill="#933fbc" fill-opacity="0.6"/>
<circle cx="456.98" cy="349.40" r="2.3" fill="#933fbc" fill-opacity="0.6"/>
<circle cx="452.08" cy="352.60" r="2.3" fill="#933fbc" fill-opacity="0.6"/>
<circle cx="457.78" cy="356.30" r="2.3" fill="#933fbc" fill-opacity="0.6"/>
<circle cx="452.88" cy="361.20" r="2.3" fill="#933fbc" fill-opacity="0.6"/>
<circle cx="456.28" cy="360.70" r="2.3" fill="#933fbc" fill-opacity="0.6"/>
<circle cx="451.38" cy="367.30" r="2.3" fill="#933fbc" fill-opacity="0.6"/>
<circle cx="456.98" cy="368.50" r="2.3" fill="#933fbc" fill-opacity="0.6"/>
<circle cx="455.28" cy="372.20" r="2.3" fill="#933fbc" fill-opacity="0.6"/>
<circle cx="455.48" cy="377.10" r="2.3" fill="#933fbc" fill-opacity="0.6"/>
<circle cx="455.48" cy="381.30" r="2.3" fill="#933fbc" fill-opacity="0.6"/>
<circle cx="453.78" cy="386.20" r="2.3" fill="#933fbc" fill-opacity="0.6"/>
<circle cx="474.15" cy="304.80" r="2.3" fill="#71bc26" fill-opacity="0.6"/>
<circle cx="474.85" cy="319.50" r="2.3" fill="#71bc26" fill-opacity="0.6"/>
<circle cx="478.35" cy="326.40" r="2.3" fill="#71bc26" fill-opacity="0.6"/>
<circle cx="474.15" cy="333.70" r="2.3" fill="#71bc26" fill-opacity="0.6"/>
<circle cx="479.75" cy="337.90" r="2.3" fill="#71bc26" fill-opacity="0.6"/>
<circle cx="476.55" cy="342.80" r="2.3" fill="#71bc26" fill-opacity="0.6"/>
<circle cx="478.35" cy="351.90" r="2.3" fill="#71bc26" fill-opacity="0.6"/>
<circle cx="474.15" cy="355.00" r="2.3" fill="#71bc26" fill-opacity="0.6"/>
<circle cx="475.35" cy="314.60" r="2.3" fill="#71bc26" fill-opacity="0.6"/>
<circle cx="477.85" cy="347.70" r="2.3" fill="#71bc26" fill-opacity="0.6"/>
<circle cx="499.92" cy="318.30" r="2.3" fill="#dfb10d" fill-opacity="0.6"/>
<circle cx="495.02" cy="320.70" r="2.3" fill="#dfb10d" fill-opacity="0.6"/>
<circle cx="497.52" cy="339.10" r="2.3" fill="#dfb10d" fill-opacity="0.6"/>
<circle cx="495.32" cy="347.70" r="2.3" fill="#dfb10d" fill-opacity="0.6"/>
<circle cx="494.52" cy="357.50" r="2.3" fill="#dfb10d" fill-opacity="0.6"/>
<circle cx="499.92" cy="364.90" r="2.3" fill="#dfb10d" fill-opacity="0.6"/>
<circle cx="494.52" cy="366.10" r="2.3" fill="#dfb10d" fill-opacity="0.6"/>
<circle cx="500.72" cy="366.80" r="2.3" fill="#dfb10d" fill-opacity="0.6"/>
<circle cx="497.02" cy="375.90" r="2.3" fill="#dfb10d" fill-opacity="0.6"/>
<circle cx="498.22" cy="379.60" r="2.3" fill="#dfb10d" fill-opacity="0.6"/>
<circle cx="501.42" cy="390.10" r="2.3" fill="#dfb10d" fill-opacity="0.6"/>
<circle cx="498.92" cy="371.00" r="2.3" fill="#dfb10d" fill-opacity="0.6"/>
<path d="M448.48 353.80H459.08V372.90H448.48ZM448.48 364.90H459.08M451.08 347.70h5.4M451.08 385.70h5.4" fill="none" stroke="#000" stroke-width="1"/>
<path d="M453.78 353.80V347.70M453.78 385.70V372.90" fill="none" stroke="#000" stroke-width="1" stroke-dasharray="8.8 6.2"/>
<path d="M470.25 318.80H480.85V345.20H470.25ZM470.25 331.00H480.85M472.85 314.10h5.4M472.85 355.00h5.4" fill="none" stroke="#000" stroke-width="1"/>
<path d="M475.55 318.80V314.10M475.55 355.00V345.20" fill="none" stroke="#000" stroke-width="1" stroke-dasharray="8.8 6.2"/>
<path d="M492.02 342.10H502.62V371.70H492.02ZM492.02 364.40H502.62M494.62 338.60h5.4M494.62 389.40h5.4" fill="none" stroke="#000" stroke-width="1"/>
<path d="M497.32 342.10V338.60M497.32 389.40V371.70" fill="none" stroke="#000" stroke-width="1" stroke-dasharray="8.8 6.2"/>
<path d="M453.78 391.8v-2M453.78 299.9v2M475.55 391.8v-2M475.55 299.9v2M497.32 391.8v-2M497.32 299.9v2M442.9 354.30h2.2M508.2 354.30h-2.2M442.9 385.94h1.2M508.2 385.94h-1.2M442.9 378.23h1.2M508.2 378.23h-1.2M442.9 371.94h1.2M508.2 371.94h-1.2M442.9 366.61h1.2M508.2 366.61h-1.2M442.9 362.00h1.2M508.2 362.00h-1.2M442.9 357.94h1.2M508.2 357.94h-1.2M442.9 330.37h1.2M508.2 330.37h-1.2M442.9 316.37h1.2M508.2 316.37h-1.2M442.9 306.44h1.2M508.2 306.44h-1.2" stroke="#262626" stroke-width="0.8" fill="none"/>
<rect x="442.9" y="299.9" width="65.30000000000001" height="91.90000000000003" fill="none" stroke="#262626" stroke-width="1.1"/>
<text x="453.78" y="405.70" font-size="11.5" text-anchor="middle" fill="#262626" >KD</text>
<text x="475.55" y="405.70" font-size="11.5" text-anchor="middle" fill="#262626" >WT</text>
<text x="497.32" y="405.70" font-size="11.5" text-anchor="middle" fill="#262626" >OE</text>
<text x="439.70" y="360.50" font-size="11.3" text-anchor="end" fill="#262626">10<tspan font-size="8.7" dy="-5.6">0</tspan></text>
<text x="418.80" y="346.50" font-size="16.0" text-anchor="middle" fill="#262626" transform="rotate(-90 418.80 346.50)">Relative <tspan font-family='"Liberation Serif", "DejaVu Serif", serif' font-style="italic" font-size="18.6" fill="#3c3c3c">κ</tspan></text>
<text x="455.20" y="344.80" font-size="20" text-anchor="middle" fill="#000" stroke="#000" stroke-width="0.35">***</text>
<text x="495.80" y="323.30" font-size="20" text-anchor="middle" fill="#000" stroke="#000" stroke-width="0.35">*</text>
<defs><filter id="gl" x="-40%" y="-20%" width="180%" height="140%"><feGaussianBlur stdDeviation="4.8"/></filter></defs>
<g filter="url(#gl)"><path d="M624.5 157C621 149 611 128 605.5 113C600.5 101 597.8 93 600.3 85.5C602.5 79 608 76.3 612 76.8C617 77.5 623 84 625.5 92C628 101 628.3 120 628.8 144C629.3 131 630.5 117 633.4 103C635.8 92 639.2 79.5 647.5 74.2C653 72.5 660 78 661 88C662 99 656 112 648.8 126C644 136 638.5 148 634.3 157C638 167 646 183 651 195C657 210 663 232 663.8 248C664.3 262 659 276 652 280.5C647 283.5 641 281 637.5 273C633 262 631.5 243 630.8 228C630 205 629.5 180 628.6 160L627.4 160C627 180 626.6 205 626.2 228C626 245 624.5 262 620 275.5C617 282 611 283 607 279C600.5 272.5 597.8 260 598.3 245C598.8 228 604.5 203 611 189C615 179 620.5 167 624.5 157Z" fill="#30c814" stroke="#30c814" stroke-width="22" stroke-linejoin="round"/></g>
<path d="M624.5 157C621 149 611 128 605.5 113C600.5 101 597.8 93 600.3 85.5C602.5 79 608 76.3 612 76.8C617 77.5 623 84 625.5 92C628 101 628.3 120 628.8 144C629.3 131 630.5 117 633.4 103C635.8 92 639.2 79.5 647.5 74.2C653 72.5 660 78 661 88C662 99 656 112 648.8 126C644 136 638.5 148 634.3 157C638 167 646 183 651 195C657 210 663 232 663.8 248C664.3 262 659 276 652 280.5C647 283.5 641 281 637.5 273C633 262 631.5 243 630.8 228C630 205 629.5 180 628.6 160L627.4 160C627 180 626.6 205 626.2 228C626 245 624.5 262 620 275.5C617 282 611 283 607 279C600.5 272.5 597.8 260 598.3 245C598.8 228 604.5 203 611 189C615 179 620.5 167 624.5 157Z" fill="#3cb81c" stroke="#3cb81c" stroke-width="6" stroke-linejoin="round"/>
<path d="M624.5 157C621 149 611 128 605.5 113C600.5 101 597.8 93 600.3 85.5C602.5 79 608 76.3 612 76.8C617 77.5 623 84 625.5 92C628 101 628.3 120 628.8 144C629.3 131 630.5 117 633.4 103C635.8 92 639.2 79.5 647.5 74.2C653 72.5 660 78 661 88C662 99 656 112 648.8 126C644 136 638.5 148 634.3 157C638 167 646 183 651 195C657 210 663 232 663.8 248C664.3 262 659 276 652 280.5C647 283.5 641 281 637.5 273C633 262 631.5 243 630.8 228C630 205 629.5 180 628.6 160L627.4 160C627 180 626.6 205 626.2 228C626 245 624.5 262 620 275.5C617 282 611 283 607 279C600.5 272.5 597.8 260 598.3 245C598.8 228 604.5 203 611 189C615 179 620.5 167 624.5 157Z" fill="#c9c9c9" stroke="#8c8c8c" stroke-width="1.3" stroke-linejoin="round"/>
<path d="M525.8 44.1H535.1M535.1 28.9V58.8M574.1 28.9V58.8M574.1 44.1H582.9M535.1 28.9H538.5M569.5 28.9H574.1M535.1 58.8H551.5M551.5 54.4V63.2M547.1 52.7H560.6V64.4H547.1M560.6 58.8H574.1" fill="none" stroke="#1a1a1a" stroke-width="1.25"/>
<g fill="none" stroke="#1a1a1a" stroke-width="0.95" stroke-linecap="round"><path d="M538.50 28.90C541.28 28.90 540.73 24.50 544.67 24.50M564.79 24.50C567.38 24.50 566.84 28.90 569.50 28.90"/><ellipse cx="544.07" cy="27.45" rx="1.78" ry="2.95" transform="rotate(-9 544.07 27.45)"/><ellipse cx="546.94" cy="27.45" rx="1.78" ry="2.95" transform="rotate(-9 546.94 27.45)"/><ellipse cx="549.82" cy="27.45" rx="1.78" ry="2.95" transform="rotate(-9 549.82 27.45)"/><ellipse cx="552.69" cy="27.45" rx="1.78" ry="2.95" transform="rotate(-9 552.69 27.45)"/><ellipse cx="555.57" cy="27.45" rx="1.78" ry="2.95" transform="rotate(-9 555.57 27.45)"/><ellipse cx="558.44" cy="27.45" rx="1.78" ry="2.95" transform="rotate(-9 558.44 27.45)"/><ellipse cx="561.31" cy="27.45" rx="1.78" ry="2.95" transform="rotate(-9 561.31 27.45)"/><ellipse cx="564.19" cy="27.45" rx="1.78" ry="2.95" transform="rotate(-9 564.19 27.45)"/></g>
<circle cx="522.9" cy="44.1" r="2.9" fill="#fff" stroke="#1a1a1a" stroke-width="1.25"/>
<circle cx="585.8" cy="44.1" r="2.9" fill="#fff" stroke="#1a1a1a" stroke-width="1.25"/>
<text x="549.50" y="17.00" font-size="10.5" text-anchor="start" fill="#222" font-family='"DejaVu Serif", "Liberation Serif", serif' ><tspan font-style="italic">κ</tspan><tspan font-size="7.5" dy="2">1</tspan></text>
<text x="551.00" y="47.50" font-size="10.5" text-anchor="start" fill="#222" font-family='"DejaVu Serif", "Liberation Serif", serif' ><tspan font-style="italic">η</tspan><tspan font-size="7.5" dy="2">1</tspan></text>
<text x="525.60" y="87.70" font-size="17.0" text-anchor="start" fill="#000" font-style="italic" >gel-like</text>
<text x="515.00" y="22.00" font-size="17" text-anchor="start" fill="#000" font-weight="bold" >f</text>
<defs><marker id="ah" markerWidth="9" markerHeight="8" refX="6.8" refY="3" orient="auto" markerUnits="userSpaceOnUse"><path d="M0 0L7.5 3L0 6L2.2 3Z" fill="#111"/></marker></defs>
<rect x="600" y="91.5" width="18.7" height="18.6" fill="none" stroke="#111" stroke-width="1.3"/>
<line x1="605.4" y1="99.1" x2="577.6" y2="68.0" stroke="#111" stroke-width="1.1" marker-end="url(#ah)"/>
<rect x="579.9" y="230.3" width="18.6" height="18.4" fill="none" stroke="#111" stroke-width="1.3"/>
<line x1="589.7" y1="241.3" x2="559.6" y2="202.2" stroke="#111" stroke-width="1.1" marker-end="url(#ah)"/>
<path d="M508.6 159.6H529.6M529.6 156V163.4M526 154.8H538.2V165H526M538.2 159.6H555M588.5 159.6H596.5" fill="none" stroke="#1a1a1a" stroke-width="1.25"/>
<g fill="none" stroke="#1a1a1a" stroke-width="0.95" stroke-linecap="round"><path d="M555.00 159.60C558.18 159.60 557.54 154.90 561.96 154.90M582.91 154.90C586.03 154.90 585.41 159.60 588.50 159.60"/><ellipse cx="561.36" cy="158.25" rx="1.86" ry="3.35" transform="rotate(-9 561.36 158.25)"/><ellipse cx="564.35" cy="158.25" rx="1.86" ry="3.35" transform="rotate(-9 564.35 158.25)"/><ellipse cx="567.34" cy="158.25" rx="1.86" ry="3.35" transform="rotate(-9 567.34 158.25)"/><ellipse cx="570.34" cy="158.25" rx="1.86" ry="3.35" transform="rotate(-9 570.34 158.25)"/><ellipse cx="573.33" cy="158.25" rx="1.86" ry="3.35" transform="rotate(-9 573.33 158.25)"/><ellipse cx="576.33" cy="158.25" rx="1.86" ry="3.35" transform="rotate(-9 576.33 158.25)"/><ellipse cx="579.32" cy="158.25" rx="1.86" ry="3.35" transform="rotate(-9 579.32 158.25)"/><ellipse cx="582.31" cy="158.25" rx="1.86" ry="3.35" transform="rotate(-9 582.31 158.25)"/></g>
<circle cx="505.7" cy="159.6" r="2.9" fill="#fff" stroke="#1a1a1a" stroke-width="1.25"/>
<circle cx="599.4" cy="159.6" r="2.9" fill="#fff" stroke="#1a1a1a" stroke-width="1.25"/>
<text x="528.50" y="149.00" font-size="10.5" text-anchor="start" fill="#222" font-family='"DejaVu Serif", "Liberation Serif", serif' ><tspan font-style="italic">η</tspan><tspan font-size="7.5" dy="2">2</tspan></text>
<text x="567.50" y="149.00" font-size="10.5" text-anchor="start" fill="#222" font-family='"DejaVu Serif", "Liberation Serif", serif' ><tspan font-style="italic">κ</tspan><tspan font-size="7.5" dy="2"> 2</tspan></text>
<text x="519.80" y="192.00" font-size="17.0" text-anchor="start" fill="#000" font-style="italic" >liquid-like</text>
</svg></body></html>
